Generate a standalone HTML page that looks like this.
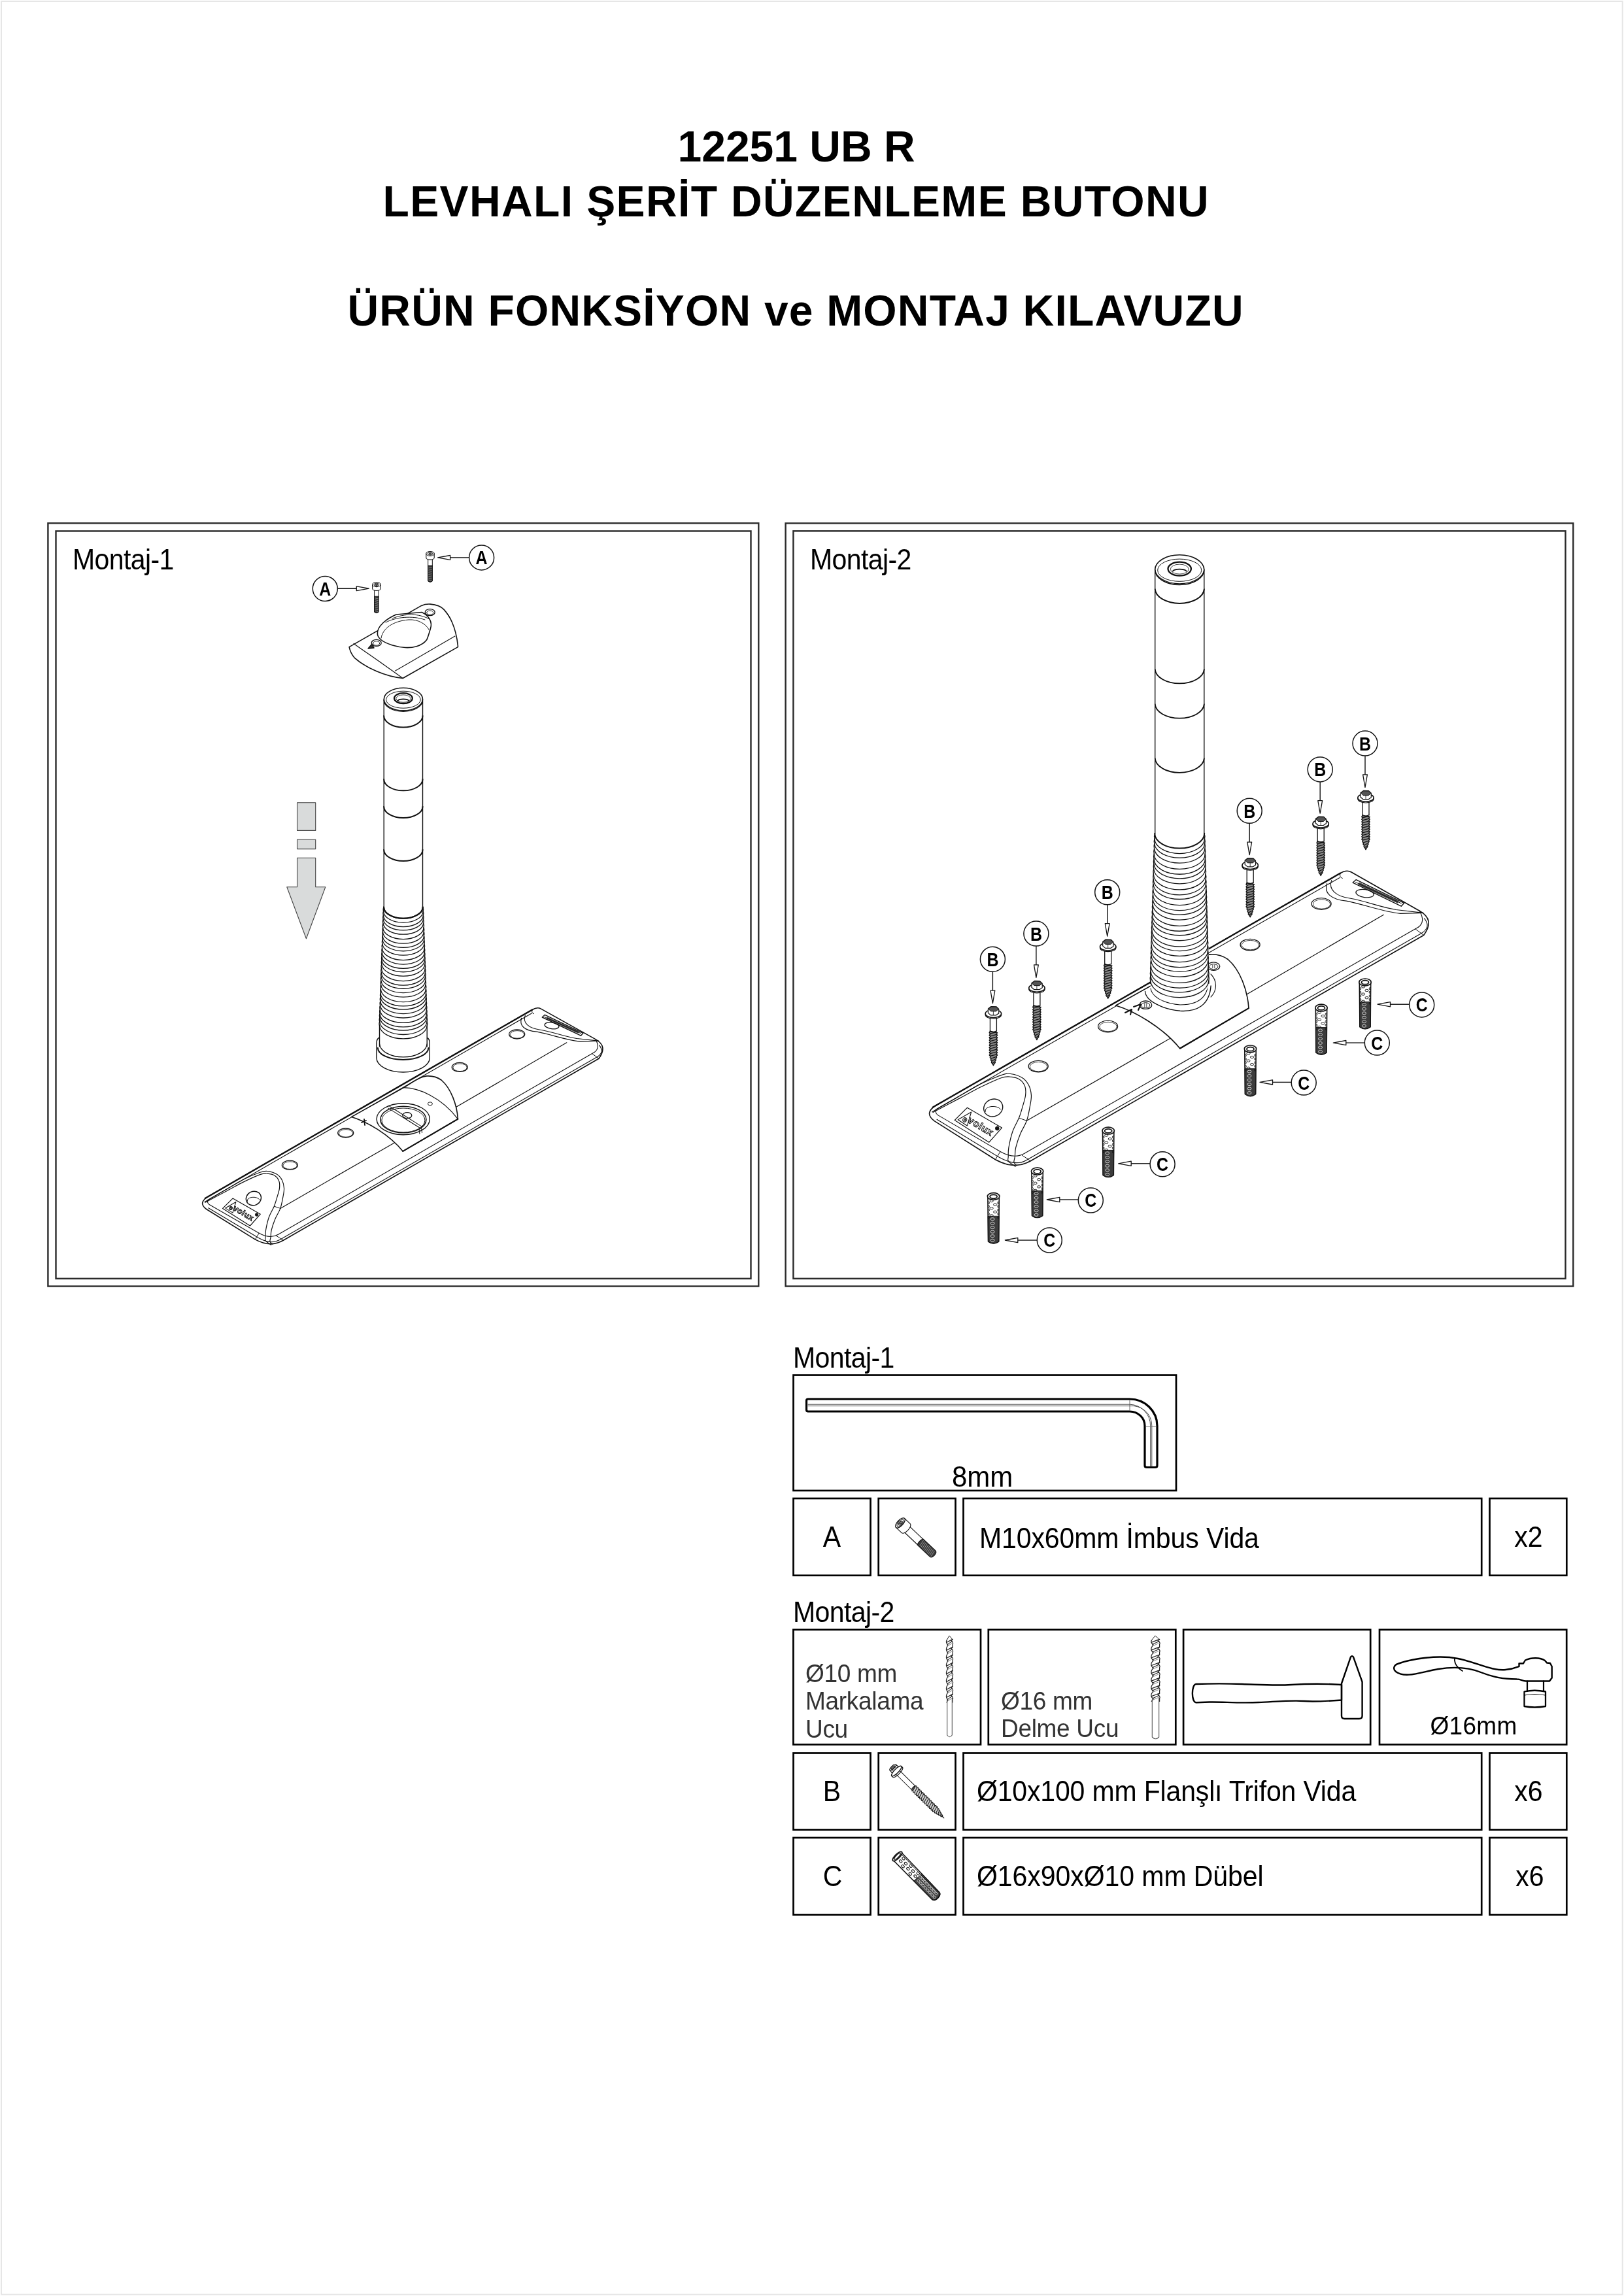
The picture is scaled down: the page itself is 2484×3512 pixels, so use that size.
<!DOCTYPE html>
<html><head><meta charset="utf-8"><title>12251 UB R</title>
<style>html,body{margin:0;padding:0;background:#fff;}svg{display:block;will-change:transform;}
text{font-family:"Liberation Sans",sans-serif;}</style></head>
<body><svg xmlns="http://www.w3.org/2000/svg" width="2484" height="3512" viewBox="0 0 2484 3512">
<rect x="2.0" y="2.0" width="2479.7" height="3507.7" fill="none" stroke="#e6e6e6" stroke-width="2" />
<text x="1036.5" y="247.0" font-size="66" font-weight="bold" fill="#000" text-anchor="start">12251 UB R</text>
<text x="585.5" y="331.0" font-size="66" font-weight="bold" fill="#000" text-anchor="start" letter-spacing="1.37">LEVHALI ŞERİT DÜZENLEME BUTONU</text>
<text x="531.5" y="498.3" font-size="66" font-weight="bold" fill="#000" text-anchor="start" letter-spacing="1.18">ÜRÜN FONKSİYON ve MONTAJ KILAVUZU</text>
<rect x="73.4" y="800.3" width="1086.9" height="1167.2" fill="none" stroke="#2b2b2b" stroke-width="2.4" />
<rect x="85.5" y="812.4" width="1063.0" height="1143.4" fill="none" stroke="#2b2b2b" stroke-width="2.4" />
<rect x="1201.6" y="800.4" width="1204.7" height="1167.1" fill="none" stroke="#2b2b2b" stroke-width="2.4" />
<rect x="1213.4" y="812.3" width="1181.1" height="1143.5" fill="none" stroke="#2b2b2b" stroke-width="2.4" />
<text x="111.0" y="871.0" font-size="41" font-weight="normal" fill="#000" text-anchor="start" letter-spacing="-0.6" transform="translate(0 871.0) scale(1 1.07) translate(0 -871.0)">Montaj-1</text>
<text x="1239.0" y="871.0" font-size="41" font-weight="normal" fill="#000" text-anchor="start" letter-spacing="-0.6" transform="translate(0 871.0) scale(1 1.07) translate(0 -871.0)">Montaj-2</text>
<text x="1213.0" y="2092.0" font-size="41" font-weight="normal" fill="#000" text-anchor="start" letter-spacing="-0.6" transform="translate(0 2092.0) scale(1 1.07) translate(0 -2092.0)">Montaj-1</text>
<rect x="1213.5" y="2103.5" width="585.5" height="176.5" fill="none" stroke="#000" stroke-width="2.7" />
<text x="1456.0" y="2274.0" font-size="42" font-weight="normal" fill="#000" text-anchor="start" transform="translate(0 2274.0) scale(1 1.07) translate(0 -2274.0)">8mm</text>
<rect x="1213.5" y="2292.0" width="118.0" height="117.8" fill="none" stroke="#000" stroke-width="2.7" />
<rect x="1343.7" y="2292.0" width="117.8" height="117.8" fill="none" stroke="#000" stroke-width="2.7" />
<rect x="1473.5" y="2292.0" width="792.7" height="117.8" fill="none" stroke="#000" stroke-width="2.7" />
<rect x="2278.5" y="2292.0" width="117.8" height="117.8" fill="none" stroke="#000" stroke-width="2.7" />
<rect x="1213.5" y="2681.5" width="118.0" height="117.5" fill="none" stroke="#000" stroke-width="2.7" />
<rect x="1343.7" y="2681.5" width="117.8" height="117.5" fill="none" stroke="#000" stroke-width="2.7" />
<rect x="1473.5" y="2681.5" width="792.7" height="117.5" fill="none" stroke="#000" stroke-width="2.7" />
<rect x="2278.5" y="2681.5" width="117.8" height="117.5" fill="none" stroke="#000" stroke-width="2.7" />
<rect x="1213.5" y="2811.0" width="118.0" height="118.0" fill="none" stroke="#000" stroke-width="2.7" />
<rect x="1343.7" y="2811.0" width="117.8" height="118.0" fill="none" stroke="#000" stroke-width="2.7" />
<rect x="1473.5" y="2811.0" width="792.7" height="118.0" fill="none" stroke="#000" stroke-width="2.7" />
<rect x="2278.5" y="2811.0" width="117.8" height="118.0" fill="none" stroke="#000" stroke-width="2.7" />
<text x="1272.5" y="2366.3" font-size="41" font-weight="normal" fill="#000" text-anchor="middle" transform="translate(0 2366.3) scale(1 1.07) translate(0 -2366.3)">A</text>
<text x="1498.0" y="2368.4" font-size="41" font-weight="normal" fill="#000" text-anchor="start" letter-spacing="-0.1" transform="translate(0 2368.4) scale(1 1.07) translate(0 -2368.4)">M10x60mm İmbus Vida</text>
<text x="2338.0" y="2366.0" font-size="41" font-weight="normal" fill="#000" text-anchor="middle" transform="translate(0 2366.0) scale(1 1.07) translate(0 -2366.0)">x2</text>
<text x="1213.0" y="2481.0" font-size="41" font-weight="normal" fill="#000" text-anchor="start" letter-spacing="-0.6" transform="translate(0 2481.0) scale(1 1.07) translate(0 -2481.0)">Montaj-2</text>
<rect x="1213.4" y="2492.8" width="286.6" height="175.7" fill="none" stroke="#000" stroke-width="2.7" />
<rect x="1511.8" y="2492.8" width="286.5" height="175.7" fill="none" stroke="#000" stroke-width="2.7" />
<rect x="1810.1" y="2492.8" width="286.1" height="175.7" fill="none" stroke="#000" stroke-width="2.7" />
<rect x="2110.0" y="2492.8" width="286.2" height="175.7" fill="none" stroke="#000" stroke-width="2.7" />
<text x="1232.0" y="2572.7" font-size="37" font-weight="normal" fill="#333" text-anchor="start" letter-spacing="-0.3" transform="translate(0 2572.7) scale(1 1.07) translate(0 -2572.7)">Ø10 mm</text>
<text x="1232.0" y="2614.7" font-size="37" font-weight="normal" fill="#333" text-anchor="start" letter-spacing="-0.3" transform="translate(0 2614.7) scale(1 1.07) translate(0 -2614.7)">Markalama</text>
<text x="1232.0" y="2657.6" font-size="37" font-weight="normal" fill="#333" text-anchor="start" letter-spacing="-0.3" transform="translate(0 2657.6) scale(1 1.07) translate(0 -2657.6)">Ucu</text>
<text x="1531.0" y="2615.0" font-size="37" font-weight="normal" fill="#333" text-anchor="start" letter-spacing="-0.3" transform="translate(0 2615.0) scale(1 1.07) translate(0 -2615.0)">Ø16 mm</text>
<text x="1531.0" y="2657.3" font-size="37" font-weight="normal" fill="#333" text-anchor="start" letter-spacing="-0.3" transform="translate(0 2657.3) scale(1 1.07) translate(0 -2657.3)">Delme Ucu</text>
<text x="2254.0" y="2653.4" font-size="37" font-weight="normal" fill="#000" text-anchor="middle" letter-spacing="0.3" transform="translate(0 2653.4) scale(1 1.07) translate(0 -2653.4)">Ø16mm</text>
<text x="1272.5" y="2755.0" font-size="41" font-weight="normal" fill="#000" text-anchor="middle" transform="translate(0 2755.0) scale(1 1.07) translate(0 -2755.0)">B</text>
<text x="1494.0" y="2754.7" font-size="41" font-weight="normal" fill="#000" text-anchor="start" letter-spacing="-0.15" transform="translate(0 2754.7) scale(1 1.07) translate(0 -2754.7)">Ø10x100 mm Flanşlı Trifon Vida</text>
<text x="2338.0" y="2755.0" font-size="41" font-weight="normal" fill="#000" text-anchor="middle" transform="translate(0 2755.0) scale(1 1.07) translate(0 -2755.0)">x6</text>
<text x="1273.5" y="2885.2" font-size="41" font-weight="normal" fill="#000" text-anchor="middle" transform="translate(0 2885.2) scale(1 1.07) translate(0 -2885.2)">C</text>
<text x="1494.0" y="2884.8" font-size="41" font-weight="normal" fill="#000" text-anchor="start" letter-spacing="-0.05" transform="translate(0 2884.8) scale(1 1.07) translate(0 -2884.8)">Ø16x90xØ10 mm Dübel</text>
<text x="2340.0" y="2885.3" font-size="41" font-weight="normal" fill="#000" text-anchor="middle" transform="translate(0 2885.3) scale(1 1.07) translate(0 -2885.3)">x6</text>
<g id="icons">
<path d="M1236,2140 L1728,2140 A42,41 0 0 1 1770,2181 L1770,2241.5 Q1770,2244.5 1767,2244.5 L1754,2244.5 Q1751,2244.5 1751,2241.5 L1751,2181 A23,22 0 0 0 1728,2159 L1236,2159 Q1233.5,2159 1233.5,2156.5 L1233.5,2142.5 Q1233.5,2140 1236,2140 Z" stroke="#000" stroke-width="3.2" fill="none" stroke-linejoin="round" stroke-linecap="round" />
<path d="M1236,2148.2 L1728,2148.2 A32.5,32 0 0 1 1759.6,2181 L1759.6,2243" stroke="#333" stroke-width="0.9" fill="none" stroke-linejoin="round" stroke-linecap="round" />
<path d="M1236,2150.6 L1728,2150.6 A30.5,30 0 0 1 1761.8,2181 L1761.8,2243" stroke="#333" stroke-width="0.9" fill="none" stroke-linejoin="round" stroke-linecap="round" />
<line x1="1728.0" y1="2141.5" x2="1728.0" y2="2157.5" stroke="#555" stroke-width="0.9"/>
<line x1="1752.5" y1="2181.5" x2="1768.5" y2="2181.5" stroke="#666" stroke-width="0.9"/>
<g transform="translate(1377.0 2329.5) rotate(43.5)">
<path d="M0,-9.6 L12,-9.6 A4.2,9.6 0 0 1 12,9.6 L0,9.6" stroke="#111" stroke-width="1.1" fill="#fff" stroke-linejoin="round" stroke-linecap="round" />
<ellipse cx="0.0" cy="0.0" rx="4.4" ry="9.6" stroke="#111" stroke-width="1.3" fill="#fff"/>
<ellipse cx="0.0" cy="0.0" rx="3.0" ry="6.6" stroke="#111" stroke-width="1.0" fill="none"/>
<ellipse cx="0.3" cy="0.0" rx="2.0" ry="4.2" stroke="#111" stroke-width="0.9" fill="none"/>
<polygon points="-1.0,-3.2 1.8,0.0 -1.0,3.2" stroke="#111" stroke-width="0.8" fill="#888" stroke-linejoin="round"/>
<path d="M15.5,-6.0 L42,-6.0 M15.5,6.0 L42,6.0" stroke="#111" stroke-width="1.1" fill="none" stroke-linejoin="round" stroke-linecap="round" />
<path d="M42,-6.3 L68,-6.3 Q72,-6.3 72,0 Q72,6.3 68,6.3 L42,6.3 Q39.5,0 42,-6.3 Z" stroke="#111" stroke-width="1.1" fill="#3a3a3a" stroke-linejoin="round" stroke-linecap="round" />
<line x1="44.0" y1="-5.2" x2="46.0" y2="5.2" stroke="#aaa" stroke-width="0.7"/>
<line x1="46.6" y1="-5.2" x2="48.6" y2="5.2" stroke="#aaa" stroke-width="0.7"/>
<line x1="49.2" y1="-5.2" x2="51.2" y2="5.2" stroke="#aaa" stroke-width="0.7"/>
<line x1="51.8" y1="-5.2" x2="53.8" y2="5.2" stroke="#aaa" stroke-width="0.7"/>
<line x1="54.4" y1="-5.2" x2="56.4" y2="5.2" stroke="#aaa" stroke-width="0.7"/>
<line x1="57.0" y1="-5.2" x2="59.0" y2="5.2" stroke="#aaa" stroke-width="0.7"/>
<line x1="59.6" y1="-5.2" x2="61.6" y2="5.2" stroke="#aaa" stroke-width="0.7"/>
<line x1="62.2" y1="-5.2" x2="64.2" y2="5.2" stroke="#aaa" stroke-width="0.7"/>
<line x1="64.8" y1="-5.2" x2="66.8" y2="5.2" stroke="#aaa" stroke-width="0.7"/>
<line x1="67.4" y1="-5.2" x2="69.4" y2="5.2" stroke="#aaa" stroke-width="0.7"/>
</g>
<g transform="translate(1371.3 2709.1) rotate(44.7)">
<polygon points="-1.0,-6.8 -7.5,-6.4 -8.8,0.0 -7.5,6.4 -1.0,6.8" stroke="#111" stroke-width="1.2" fill="#fff" stroke-linejoin="round"/>
<ellipse cx="-8.0" cy="0.0" rx="2.2" ry="6.4" stroke="#111" stroke-width="1.2" fill="#fff"/>
<ellipse cx="-8.0" cy="0.0" rx="1.3" ry="3.8" stroke="#111" stroke-width="0.9" fill="#777"/>
<line x1="-7.5" y1="-3.2" x2="-1.0" y2="-3.4" stroke="#111" stroke-width="0.8"/>
<line x1="-7.5" y1="3.2" x2="-1.0" y2="3.4" stroke="#111" stroke-width="0.8"/>
<path d="M0,-10.5 L2.6,-10.5 A3.2,10.5 0 0 1 2.6,10.5 L0,10.5" stroke="#111" stroke-width="1.2" fill="#fff" stroke-linejoin="round" stroke-linecap="round" />
<ellipse cx="0.0" cy="0.0" rx="3.2" ry="10.5" stroke="#111" stroke-width="1.4" fill="#fff"/>
<path d="M4,-4.0 L36,-4.0 M4,4.0 L36,4.0" stroke="#111" stroke-width="1.0" fill="none" stroke-linejoin="round" stroke-linecap="round" />
<path d="M36,-4.0 Q34.5,0 36,4.0" stroke="#111" stroke-width="1.3" fill="none" stroke-linejoin="round" stroke-linecap="round" />
<path d="M36,-4.2 L37.8,-5.3 L39.5,-3.7 L41.2,-5.3 L43.0,-3.7 L44.8,-5.3 L46.5,-3.7 L48.2,-5.3 L50.0,-3.7 L51.8,-5.3 L53.5,-3.7 L55.2,-5.3 L57.0,-3.7 L58.8,-5.3 L60.5,-3.7 L62.2,-5.3 L64.0,-3.7 L65.8,-5.3 L67.5,-3.7 L69.2,-5.3 L71.0,-3.7 L72.8,-5.3 L74.5,-3.7 L76.2,-5.3 L78.0,-3.7 L79.8,-5.3 L81.5,-3.7 L83.2,-5.3 L85.0,-3.7 L86.8,-4.4 L88.5,-2.8 L90.2,-3.5 L92.0,-1.9 L93.8,-2.6 L95.5,-1.0 L97.2,-1.7 L99.0,-0.1 L102,0 L99.0,0.1 L97.2,1.7 L95.5,1.0 L93.8,2.6 L92.0,1.9 L90.2,3.5 L88.5,2.8 L86.8,4.4 L85.0,3.7 L83.2,5.3 L81.5,3.7 L79.8,5.3 L78.0,3.7 L76.2,5.3 L74.5,3.7 L72.8,5.3 L71.0,3.7 L69.2,5.3 L67.5,3.7 L65.8,5.3 L64.0,3.7 L62.2,5.3 L60.5,3.7 L58.8,5.3 L57.0,3.7 L55.2,5.3 L53.5,3.7 L51.8,5.3 L50.0,3.7 L48.2,5.3 L46.5,3.7 L44.8,5.3 L43.0,3.7 L41.2,5.3 L39.5,3.7 L37.8,5.3 Z" stroke="#111" stroke-width="1.1" fill="#cfcfcf" stroke-linejoin="round" stroke-linecap="round" />
<line x1="36.8" y1="-4.0" x2="39.0" y2="4.0" stroke="#111" stroke-width="1.0"/>
<line x1="40.3" y1="-4.0" x2="42.5" y2="4.0" stroke="#111" stroke-width="1.0"/>
<line x1="43.8" y1="-4.0" x2="46.0" y2="4.0" stroke="#111" stroke-width="1.0"/>
<line x1="47.3" y1="-4.0" x2="49.5" y2="4.0" stroke="#111" stroke-width="1.0"/>
<line x1="50.8" y1="-4.0" x2="53.0" y2="4.0" stroke="#111" stroke-width="1.0"/>
<line x1="54.3" y1="-4.0" x2="56.5" y2="4.0" stroke="#111" stroke-width="1.0"/>
<line x1="57.8" y1="-4.0" x2="60.0" y2="4.0" stroke="#111" stroke-width="1.0"/>
<line x1="61.3" y1="-4.0" x2="63.5" y2="4.0" stroke="#111" stroke-width="1.0"/>
<line x1="64.8" y1="-4.0" x2="67.0" y2="4.0" stroke="#111" stroke-width="1.0"/>
<line x1="68.3" y1="-4.0" x2="70.5" y2="4.0" stroke="#111" stroke-width="1.0"/>
<line x1="71.8" y1="-4.0" x2="74.0" y2="4.0" stroke="#111" stroke-width="1.0"/>
<line x1="75.3" y1="-4.0" x2="77.5" y2="4.0" stroke="#111" stroke-width="1.0"/>
<line x1="78.8" y1="-4.0" x2="81.0" y2="4.0" stroke="#111" stroke-width="1.0"/>
<line x1="82.3" y1="-4.0" x2="84.5" y2="4.0" stroke="#111" stroke-width="1.0"/>
<line x1="85.8" y1="-3.1" x2="88.0" y2="3.1" stroke="#111" stroke-width="1.0"/>
<line x1="89.3" y1="-2.2" x2="91.5" y2="2.2" stroke="#111" stroke-width="1.0"/>
<line x1="92.8" y1="-1.3" x2="95.0" y2="1.3" stroke="#111" stroke-width="1.0"/>
<line x1="96.3" y1="-0.4" x2="98.5" y2="0.4" stroke="#111" stroke-width="1.0"/>
</g>
<g transform="translate(1372.5 2839.5) rotate(45.8) scale(1.0)">
<path d="M0,-8.6 L84,-7.8 Q89,-7.6 89,0 Q89,7.6 84,7.8 L0,8.6 Z" stroke="#111" stroke-width="1.6" fill="#fff" stroke-linejoin="round" stroke-linecap="round" />
<ellipse cx="9.0" cy="-4.5" rx="2.4" ry="1.8" stroke="#111" stroke-width="1.0" fill="none"/>
<ellipse cx="9.0" cy="1.5" rx="2.4" ry="1.8" stroke="#111" stroke-width="1.0" fill="none"/>
<ellipse cx="17.0" cy="-1.5" rx="2.4" ry="1.8" stroke="#111" stroke-width="1.0" fill="none"/>
<ellipse cx="17.0" cy="4.5" rx="2.4" ry="1.8" stroke="#111" stroke-width="1.0" fill="none"/>
<ellipse cx="25.0" cy="-4.5" rx="2.4" ry="1.8" stroke="#111" stroke-width="1.0" fill="none"/>
<ellipse cx="25.0" cy="1.5" rx="2.4" ry="1.8" stroke="#111" stroke-width="1.0" fill="none"/>
<ellipse cx="33.0" cy="-1.5" rx="2.4" ry="1.8" stroke="#111" stroke-width="1.0" fill="none"/>
<ellipse cx="33.0" cy="4.5" rx="2.4" ry="1.8" stroke="#111" stroke-width="1.0" fill="none"/>
<ellipse cx="41.0" cy="-4.5" rx="2.4" ry="1.8" stroke="#111" stroke-width="1.0" fill="none"/>
<ellipse cx="41.0" cy="1.5" rx="2.4" ry="1.8" stroke="#111" stroke-width="1.0" fill="none"/>
<path d="M45,-8.2 L84,-7.8 Q88,-7.6 88,0 Q88,7.6 84,7.8 L45,8.2 Z" stroke="#111" stroke-width="1.0" fill="#444" stroke-linejoin="round" stroke-linecap="round" />
<ellipse cx="47.0" cy="-3.0" rx="2.1" ry="1.9" stroke="#ddd" stroke-width="0.8" fill="none"/>
<ellipse cx="49.5" cy="3.0" rx="2.1" ry="1.9" stroke="#ddd" stroke-width="0.8" fill="none"/>
<ellipse cx="52.0" cy="-3.0" rx="2.1" ry="1.9" stroke="#ddd" stroke-width="0.8" fill="none"/>
<ellipse cx="54.5" cy="3.0" rx="2.1" ry="1.9" stroke="#ddd" stroke-width="0.8" fill="none"/>
<ellipse cx="57.0" cy="-3.0" rx="2.1" ry="1.9" stroke="#ddd" stroke-width="0.8" fill="none"/>
<ellipse cx="59.5" cy="3.0" rx="2.1" ry="1.9" stroke="#ddd" stroke-width="0.8" fill="none"/>
<ellipse cx="62.0" cy="-3.0" rx="2.1" ry="1.9" stroke="#ddd" stroke-width="0.8" fill="none"/>
<ellipse cx="64.5" cy="3.0" rx="2.1" ry="1.9" stroke="#ddd" stroke-width="0.8" fill="none"/>
<ellipse cx="67.0" cy="-3.0" rx="2.1" ry="1.9" stroke="#ddd" stroke-width="0.8" fill="none"/>
<ellipse cx="69.5" cy="3.0" rx="2.1" ry="1.9" stroke="#ddd" stroke-width="0.8" fill="none"/>
<ellipse cx="72.0" cy="-3.0" rx="2.1" ry="1.9" stroke="#ddd" stroke-width="0.8" fill="none"/>
<ellipse cx="74.5" cy="3.0" rx="2.1" ry="1.9" stroke="#ddd" stroke-width="0.8" fill="none"/>
<ellipse cx="77.0" cy="-3.0" rx="2.1" ry="1.9" stroke="#ddd" stroke-width="0.8" fill="none"/>
<ellipse cx="79.5" cy="3.0" rx="2.1" ry="1.9" stroke="#ddd" stroke-width="0.8" fill="none"/>
<ellipse cx="82.0" cy="-3.0" rx="2.1" ry="1.9" stroke="#ddd" stroke-width="0.8" fill="none"/>
<ellipse cx="84.5" cy="3.0" rx="2.1" ry="1.9" stroke="#ddd" stroke-width="0.8" fill="none"/>
<line x1="2.0" y1="-6.6" x2="84.0" y2="-6.0" stroke="#111" stroke-width="0.9"/>
<line x1="2.0" y1="-5.2" x2="84.0" y2="-4.7" stroke="#fff" stroke-width="0.6"/>
<ellipse cx="0.0" cy="0.0" rx="3.4" ry="9.6" stroke="#111" stroke-width="1.8" fill="#fff"/>
<ellipse cx="0.0" cy="0.0" rx="2.0" ry="6.4" stroke="#111" stroke-width="1.3" fill="none"/>
</g>
<path d="M1448.0,2509.0 L1452.0,2502.0 L1457.0,2508.0" stroke="#222" stroke-width="1.0" fill="none" stroke-linejoin="round" stroke-linecap="round" />
<path d="M1448.0,2509.0 Q1446.2,2513.4 1450.0,2515.8 L1448.0,2520.0 Q1446.2,2525.4 1450.0,2527.8 L1448.0,2532.0 Q1446.2,2537.4 1450.0,2539.8 L1448.0,2544.0 Q1446.2,2549.4 1450.0,2551.8 L1448.0,2556.0 Q1446.2,2561.4 1450.0,2563.8 L1448.0,2568.0 Q1446.2,2573.4 1450.0,2575.8 L1448.0,2580.0 Q1446.2,2585.4 1450.0,2587.8 L1448.0,2592.0 Q1446.2,2597.4 1450.0,2599.8 L1448.0,2604.0" stroke="#222" stroke-width="1.2" fill="none" stroke-linejoin="round" stroke-linecap="round" />
<path d="M1457.0,2508.0 L1455.0,2509.8 Q1458.8,2512.8 1457.0,2515.2 L1457.0,2520.0 L1455.0,2521.8 Q1458.8,2524.8 1457.0,2527.2 L1457.0,2532.0 L1455.0,2533.8 Q1458.8,2536.8 1457.0,2539.2 L1457.0,2544.0 L1455.0,2545.8 Q1458.8,2548.8 1457.0,2551.2 L1457.0,2556.0 L1455.0,2557.8 Q1458.8,2560.8 1457.0,2563.2 L1457.0,2568.0 L1455.0,2569.8 Q1458.8,2572.8 1457.0,2575.2 L1457.0,2580.0 L1455.0,2581.8 Q1458.8,2584.8 1457.0,2587.2 L1457.0,2592.0 L1455.0,2593.8 Q1458.8,2596.8 1457.0,2599.2 L1457.0,2604.0" stroke="#222" stroke-width="1.2" fill="none" stroke-linejoin="round" stroke-linecap="round" />
<path d="M1448.0,2512.2 L1457.0,2507.4" stroke="#222" stroke-width="1.3" fill="none" stroke-linejoin="round" stroke-linecap="round" />
<path d="M1448.9,2515.4 L1456.5,2510.6" stroke="#222" stroke-width="1.1" fill="none" stroke-linejoin="round" stroke-linecap="round" />
<path d="M1449.8,2517.6 L1455.7,2514.0" stroke="#555" stroke-width="0.7" fill="none" stroke-linejoin="round" stroke-linecap="round" />
<path d="M1448.0,2524.2 L1457.0,2519.4" stroke="#222" stroke-width="1.3" fill="none" stroke-linejoin="round" stroke-linecap="round" />
<path d="M1448.9,2527.4 L1456.5,2522.6" stroke="#222" stroke-width="1.1" fill="none" stroke-linejoin="round" stroke-linecap="round" />
<path d="M1449.8,2529.6 L1455.7,2526.0" stroke="#555" stroke-width="0.7" fill="none" stroke-linejoin="round" stroke-linecap="round" />
<path d="M1448.0,2536.2 L1457.0,2531.4" stroke="#222" stroke-width="1.3" fill="none" stroke-linejoin="round" stroke-linecap="round" />
<path d="M1448.9,2539.4 L1456.5,2534.6" stroke="#222" stroke-width="1.1" fill="none" stroke-linejoin="round" stroke-linecap="round" />
<path d="M1449.8,2541.6 L1455.7,2538.0" stroke="#555" stroke-width="0.7" fill="none" stroke-linejoin="round" stroke-linecap="round" />
<path d="M1448.0,2548.2 L1457.0,2543.4" stroke="#222" stroke-width="1.3" fill="none" stroke-linejoin="round" stroke-linecap="round" />
<path d="M1448.9,2551.4 L1456.5,2546.6" stroke="#222" stroke-width="1.1" fill="none" stroke-linejoin="round" stroke-linecap="round" />
<path d="M1449.8,2553.6 L1455.7,2550.0" stroke="#555" stroke-width="0.7" fill="none" stroke-linejoin="round" stroke-linecap="round" />
<path d="M1448.0,2560.2 L1457.0,2555.4" stroke="#222" stroke-width="1.3" fill="none" stroke-linejoin="round" stroke-linecap="round" />
<path d="M1448.9,2563.4 L1456.5,2558.6" stroke="#222" stroke-width="1.1" fill="none" stroke-linejoin="round" stroke-linecap="round" />
<path d="M1449.8,2565.6 L1455.7,2562.0" stroke="#555" stroke-width="0.7" fill="none" stroke-linejoin="round" stroke-linecap="round" />
<path d="M1448.0,2572.2 L1457.0,2567.4" stroke="#222" stroke-width="1.3" fill="none" stroke-linejoin="round" stroke-linecap="round" />
<path d="M1448.9,2575.4 L1456.5,2570.6" stroke="#222" stroke-width="1.1" fill="none" stroke-linejoin="round" stroke-linecap="round" />
<path d="M1449.8,2577.6 L1455.7,2574.0" stroke="#555" stroke-width="0.7" fill="none" stroke-linejoin="round" stroke-linecap="round" />
<path d="M1448.0,2584.2 L1457.0,2579.4" stroke="#222" stroke-width="1.3" fill="none" stroke-linejoin="round" stroke-linecap="round" />
<path d="M1448.9,2587.4 L1456.5,2582.6" stroke="#222" stroke-width="1.1" fill="none" stroke-linejoin="round" stroke-linecap="round" />
<path d="M1449.8,2589.6 L1455.7,2586.0" stroke="#555" stroke-width="0.7" fill="none" stroke-linejoin="round" stroke-linecap="round" />
<path d="M1448.0,2596.2 L1457.0,2591.4" stroke="#222" stroke-width="1.3" fill="none" stroke-linejoin="round" stroke-linecap="round" />
<path d="M1448.9,2599.4 L1456.5,2594.6" stroke="#222" stroke-width="1.1" fill="none" stroke-linejoin="round" stroke-linecap="round" />
<path d="M1449.8,2601.6 L1455.7,2598.0" stroke="#555" stroke-width="0.7" fill="none" stroke-linejoin="round" stroke-linecap="round" />
<path d="M1448.7,2600.0 L1448.7,2654.0 Q1452.5,2659.5 1456.3,2654.0 L1456.3,2597.0" stroke="#555" stroke-width="1.1" fill="none" stroke-linejoin="round" stroke-linecap="round" />
<path d="M1761.4,2509.0 L1766.9,2502.0 L1773.6,2508.0" stroke="#222" stroke-width="1.0" fill="none" stroke-linejoin="round" stroke-linecap="round" />
<path d="M1761.4,2509.0 Q1759.6,2513.3 1764.1,2515.7 L1761.4,2519.8 Q1759.6,2525.1 1764.1,2527.5 L1761.4,2531.6 Q1759.6,2536.9 1764.1,2539.3 L1761.4,2543.4 Q1759.6,2548.7 1764.1,2551.1 L1761.4,2555.2 Q1759.6,2560.5 1764.1,2562.9 L1761.4,2567.0 Q1759.6,2572.3 1764.1,2574.7 L1761.4,2578.8 Q1759.6,2584.1 1764.1,2586.5 L1761.4,2590.6 Q1759.6,2595.9 1764.1,2598.3 L1761.4,2602.4" stroke="#222" stroke-width="1.2" fill="none" stroke-linejoin="round" stroke-linecap="round" />
<path d="M1773.6,2508.0 L1770.9,2509.8 Q1775.4,2512.7 1773.6,2515.1 L1773.6,2519.8 L1770.9,2521.6 Q1775.4,2524.5 1773.6,2526.9 L1773.6,2531.6 L1770.9,2533.4 Q1775.4,2536.3 1773.6,2538.7 L1773.6,2543.4 L1770.9,2545.2 Q1775.4,2548.1 1773.6,2550.5 L1773.6,2555.2 L1770.9,2557.0 Q1775.4,2559.9 1773.6,2562.3 L1773.6,2567.0 L1770.9,2568.8 Q1775.4,2571.7 1773.6,2574.1 L1773.6,2578.8 L1770.9,2580.6 Q1775.4,2583.5 1773.6,2585.9 L1773.6,2590.6 L1770.9,2592.4 Q1775.4,2595.3 1773.6,2597.7 L1773.6,2602.4" stroke="#222" stroke-width="1.2" fill="none" stroke-linejoin="round" stroke-linecap="round" />
<path d="M1761.4,2512.1 L1773.6,2507.4" stroke="#222" stroke-width="1.3" fill="none" stroke-linejoin="round" stroke-linecap="round" />
<path d="M1762.6,2515.3 L1773.0,2510.6" stroke="#222" stroke-width="1.1" fill="none" stroke-linejoin="round" stroke-linecap="round" />
<path d="M1763.8,2517.4 L1771.8,2513.9" stroke="#555" stroke-width="0.7" fill="none" stroke-linejoin="round" stroke-linecap="round" />
<path d="M1761.4,2523.9 L1773.6,2519.2" stroke="#222" stroke-width="1.3" fill="none" stroke-linejoin="round" stroke-linecap="round" />
<path d="M1762.6,2527.1 L1773.0,2522.4" stroke="#222" stroke-width="1.1" fill="none" stroke-linejoin="round" stroke-linecap="round" />
<path d="M1763.8,2529.2 L1771.8,2525.7" stroke="#555" stroke-width="0.7" fill="none" stroke-linejoin="round" stroke-linecap="round" />
<path d="M1761.4,2535.7 L1773.6,2531.0" stroke="#222" stroke-width="1.3" fill="none" stroke-linejoin="round" stroke-linecap="round" />
<path d="M1762.6,2538.9 L1773.0,2534.2" stroke="#222" stroke-width="1.1" fill="none" stroke-linejoin="round" stroke-linecap="round" />
<path d="M1763.8,2541.0 L1771.8,2537.5" stroke="#555" stroke-width="0.7" fill="none" stroke-linejoin="round" stroke-linecap="round" />
<path d="M1761.4,2547.5 L1773.6,2542.8" stroke="#222" stroke-width="1.3" fill="none" stroke-linejoin="round" stroke-linecap="round" />
<path d="M1762.6,2550.7 L1773.0,2546.0" stroke="#222" stroke-width="1.1" fill="none" stroke-linejoin="round" stroke-linecap="round" />
<path d="M1763.8,2552.8 L1771.8,2549.3" stroke="#555" stroke-width="0.7" fill="none" stroke-linejoin="round" stroke-linecap="round" />
<path d="M1761.4,2559.3 L1773.6,2554.6" stroke="#222" stroke-width="1.3" fill="none" stroke-linejoin="round" stroke-linecap="round" />
<path d="M1762.6,2562.5 L1773.0,2557.8" stroke="#222" stroke-width="1.1" fill="none" stroke-linejoin="round" stroke-linecap="round" />
<path d="M1763.8,2564.6 L1771.8,2561.1" stroke="#555" stroke-width="0.7" fill="none" stroke-linejoin="round" stroke-linecap="round" />
<path d="M1761.4,2571.1 L1773.6,2566.4" stroke="#222" stroke-width="1.3" fill="none" stroke-linejoin="round" stroke-linecap="round" />
<path d="M1762.6,2574.3 L1773.0,2569.6" stroke="#222" stroke-width="1.1" fill="none" stroke-linejoin="round" stroke-linecap="round" />
<path d="M1763.8,2576.4 L1771.8,2572.9" stroke="#555" stroke-width="0.7" fill="none" stroke-linejoin="round" stroke-linecap="round" />
<path d="M1761.4,2582.9 L1773.6,2578.2" stroke="#222" stroke-width="1.3" fill="none" stroke-linejoin="round" stroke-linecap="round" />
<path d="M1762.6,2586.1 L1773.0,2581.4" stroke="#222" stroke-width="1.1" fill="none" stroke-linejoin="round" stroke-linecap="round" />
<path d="M1763.8,2588.2 L1771.8,2584.7" stroke="#555" stroke-width="0.7" fill="none" stroke-linejoin="round" stroke-linecap="round" />
<path d="M1761.4,2594.7 L1773.6,2590.0" stroke="#222" stroke-width="1.3" fill="none" stroke-linejoin="round" stroke-linecap="round" />
<path d="M1762.6,2597.9 L1773.0,2593.2" stroke="#222" stroke-width="1.1" fill="none" stroke-linejoin="round" stroke-linecap="round" />
<path d="M1763.8,2600.0 L1771.8,2596.5" stroke="#555" stroke-width="0.7" fill="none" stroke-linejoin="round" stroke-linecap="round" />
<path d="M1762.3,2600.0 L1762.3,2657.0 Q1767.5,2662.5 1772.7,2657.0 L1772.7,2597.0" stroke="#555" stroke-width="1.1" fill="none" stroke-linejoin="round" stroke-linecap="round" />
<path d="M1829.5,2576 C1845,2575.5 1870,2575 1900,2576 C1930,2577 1950,2578.5 1975,2577 C2000,2575.5 2030,2575.5 2052,2577 L2052,2600.5 C2030,2602 2010,2603.5 1995,2602 C1975,2600.5 1950,2603 1925,2604 C1895,2605.5 1870,2603 1850,2603.5 L1829.5,2604.2 C1822,2604 1822,2576.5 1829.5,2576 Z" stroke="#000" stroke-width="2.4" fill="none" stroke-linejoin="round" stroke-linecap="round" />
<path d="M2052,2575 L2066,2534.5 Q2068,2532 2070,2534.5 L2083.6,2572.6 L2083.6,2624.5 Q2083.6,2629 2079,2629 L2056.5,2629 Q2052,2629 2052,2624.5 Z" stroke="#000" stroke-width="2.4" fill="none" stroke-linejoin="round" stroke-linecap="round" />
<path d="M2138,2545 C2160,2537 2200,2531 2230,2537 C2260,2543 2280,2556 2303,2554 C2315,2553 2323,2549 2323.5,2549 L2323.5,2544.5 L2330,2544.5 L2333,2539.5 C2342,2535 2356,2535 2363,2540 L2366,2543.5 L2371,2544 L2373.7,2549 L2373.7,2566.5 L2370,2571.5 L2334,2571.5 C2328,2571 2327,2568.5 2320,2568.5 C2300,2568 2285,2566 2265,2558 C2245,2550 2225,2549 2200,2553 C2175,2557 2150,2568 2135,2557 C2130,2553 2132,2547 2138,2545 Z" stroke="#000" stroke-width="2.4" fill="none" stroke-linejoin="round" stroke-linecap="round" />
<path d="M2225,2537 C2224,2545 2230,2552 2237,2556" stroke="#000" stroke-width="1.8" fill="none" stroke-linejoin="round" stroke-linecap="round" />
<path d="M2336,2571.5 L2336,2587 M2361,2571.5 L2361,2587" stroke="#000" stroke-width="2.2" fill="none" stroke-linejoin="round" stroke-linecap="round" />
<path d="M2331.5,2587.5 Q2347,2584 2364,2587.5 L2364,2610 Q2347,2613 2331.5,2610 Z" stroke="#000" stroke-width="2.3" fill="none" stroke-linejoin="round" stroke-linecap="round" />
<path d="M2332,2593 Q2347,2590 2363.5,2593" stroke="#000" stroke-width="1.2" fill="none" stroke-linejoin="round" stroke-linecap="round" />
</g>
<g id="left">
<circle cx="497.3" cy="900.5" r="19.0" stroke="#111" stroke-width="1.5" fill="#fff"/>
<text x="497.3" y="911.0" font-size="29" font-weight="bold" text-anchor="middle" fill="#000" transform="translate(497.3 0) scale(0.86 1) translate(-497.3 0)">A</text>
<line x1="516.1" y1="900.3" x2="545.3" y2="900.2" stroke="#111" stroke-width="1.4"/>
<polygon points="545.3,903.6 564.3,900.2 545.3,896.8" stroke="#111" stroke-width="1.3" fill="#fff" stroke-linejoin="round"/>
<path d="M569.6,894.2 L569.6,900.2 A6.2,3.2 0 0 0 582.1,900.2 L582.1,894.2" stroke="#111" stroke-width="1.1" fill="#fff" stroke-linejoin="round" stroke-linecap="round" />
<ellipse cx="575.9" cy="894.2" rx="6.2" ry="3.4" stroke="#111" stroke-width="1.1" fill="#fff"/>
<ellipse cx="575.9" cy="894.3" rx="4.0" ry="2.2" stroke="#111" stroke-width="0.9" fill="none"/>
<ellipse cx="575.9" cy="894.3" rx="2.0" ry="1.2" stroke="#111" stroke-width="0.8" fill="#666"/>
<line x1="572.6" y1="903.0" x2="572.6" y2="913.7" stroke="#111" stroke-width="1.0"/>
<line x1="579.1" y1="903.0" x2="579.1" y2="913.7" stroke="#111" stroke-width="1.0"/>
<path d="M572.5,912.7 L572.5,936.2 Q575.9,939.2 579.2,936.2 L579.2,912.7 Z" stroke="#111" stroke-width="1.0" fill="#333" stroke-linejoin="round" stroke-linecap="round" />
<line x1="573.2" y1="914.7" x2="578.5" y2="915.9" stroke="#bbb" stroke-width="0.6"/>
<line x1="573.2" y1="917.5" x2="578.5" y2="918.7" stroke="#bbb" stroke-width="0.6"/>
<line x1="573.2" y1="920.3" x2="578.5" y2="921.5" stroke="#bbb" stroke-width="0.6"/>
<line x1="573.2" y1="923.1" x2="578.5" y2="924.3" stroke="#bbb" stroke-width="0.6"/>
<line x1="573.2" y1="925.9" x2="578.5" y2="927.1" stroke="#bbb" stroke-width="0.6"/>
<line x1="573.2" y1="928.7" x2="578.5" y2="929.9" stroke="#bbb" stroke-width="0.6"/>
<line x1="573.2" y1="931.5" x2="578.5" y2="932.7" stroke="#bbb" stroke-width="0.6"/>
<line x1="573.2" y1="934.3" x2="578.5" y2="935.5" stroke="#bbb" stroke-width="0.6"/>
<circle cx="736.6" cy="852.9" r="19.0" stroke="#111" stroke-width="1.5" fill="#fff"/>
<text x="736.6" y="863.4" font-size="29" font-weight="bold" text-anchor="middle" fill="#000" transform="translate(736.6 0) scale(0.86 1) translate(-736.6 0)">A</text>
<line x1="717.5" y1="852.9" x2="688.6" y2="852.9" stroke="#111" stroke-width="1.4"/>
<polygon points="688.6,849.5 669.6,852.9 688.6,856.3" stroke="#111" stroke-width="1.3" fill="#fff" stroke-linejoin="round"/>
<path d="M651.8,846.9 L651.8,852.9 A6.2,3.2 0 0 0 664.2,852.9 L664.2,846.9" stroke="#111" stroke-width="1.1" fill="#fff" stroke-linejoin="round" stroke-linecap="round" />
<ellipse cx="658.0" cy="846.9" rx="6.2" ry="3.4" stroke="#111" stroke-width="1.1" fill="#fff"/>
<ellipse cx="658.0" cy="847.0" rx="4.0" ry="2.2" stroke="#111" stroke-width="0.9" fill="none"/>
<ellipse cx="658.0" cy="847.0" rx="2.0" ry="1.2" stroke="#111" stroke-width="0.8" fill="#666"/>
<line x1="654.7" y1="855.7" x2="654.7" y2="866.4" stroke="#111" stroke-width="1.0"/>
<line x1="661.3" y1="855.7" x2="661.3" y2="866.4" stroke="#111" stroke-width="1.0"/>
<path d="M654.6,865.4 L654.6,888.9 Q658.0,891.9 661.4,888.9 L661.4,865.4 Z" stroke="#111" stroke-width="1.0" fill="#333" stroke-linejoin="round" stroke-linecap="round" />
<line x1="655.4" y1="867.4" x2="660.6" y2="868.6" stroke="#bbb" stroke-width="0.6"/>
<line x1="655.4" y1="870.2" x2="660.6" y2="871.4" stroke="#bbb" stroke-width="0.6"/>
<line x1="655.4" y1="873.0" x2="660.6" y2="874.2" stroke="#bbb" stroke-width="0.6"/>
<line x1="655.4" y1="875.8" x2="660.6" y2="877.0" stroke="#bbb" stroke-width="0.6"/>
<line x1="655.4" y1="878.6" x2="660.6" y2="879.8" stroke="#bbb" stroke-width="0.6"/>
<line x1="655.4" y1="881.4" x2="660.6" y2="882.6" stroke="#bbb" stroke-width="0.6"/>
<line x1="655.4" y1="884.2" x2="660.6" y2="885.4" stroke="#bbb" stroke-width="0.6"/>
<line x1="655.4" y1="887.0" x2="660.6" y2="888.2" stroke="#bbb" stroke-width="0.6"/>
<path d="M534.1,989.6 L644.6,926.4 C650,924 654,923.8 658.3,924.1 C668,925 675,928 678.8,932.1 C685,939 689,946 691.3,951.5 C696,962 699,975 700.4,987.9 L700.4,989.6 L616.1,1037.5 C590,1035 560,1022 542.1,1006.1 C537,1000 535,994 534.1,989.6 Z" stroke="#111" stroke-width="1.6" fill="#fff" stroke-linejoin="round" stroke-linecap="round" />
<path d="M541,984.5 C560,998 595,1022 616.1,1037.5" stroke="#111" stroke-width="1.2" fill="none" stroke-linejoin="round" stroke-linecap="round" />
<path d="M604.7,1026.1 L695.9,973.1" stroke="#111" stroke-width="1.1" fill="none" stroke-linejoin="round" stroke-linecap="round" />
<path d="M577.4,970 C576,958 592,946 606,940 L645,936.5 C656,941 662,952 658.3,962 C656,970 654,976 652.6,978.8 C645,989 630,991 620,990.5 C608,990 590,985 582,978 C579,975 577.5,972 577.4,970 Z" stroke="#111" stroke-width="1.6" fill="#fff" stroke-linejoin="round" stroke-linecap="round" />
<path d="M583,976 C585,962 600,950 625,948 C640,947 652,955 656,963" stroke="#111" stroke-width="1.0" fill="none" stroke-linejoin="round" stroke-linecap="round" />
<path d="M590,952 C605,944 630,941 650,948" stroke="#111" stroke-width="1.0" fill="none" stroke-linejoin="round" stroke-linecap="round" />
<path d="M600,946 C620,938 640,938 657,947" stroke="#111" stroke-width="1.0" fill="none" stroke-linejoin="round" stroke-linecap="round" />
<ellipse cx="657.7" cy="936.6" rx="7.5" ry="5.0" stroke="#111" stroke-width="1.3" fill="none"/>
<ellipse cx="657.7" cy="937.2" rx="5.0" ry="3.2" stroke="#111" stroke-width="0.9" fill="none"/>
<ellipse cx="575.7" cy="983.4" rx="7.5" ry="5.0" stroke="#111" stroke-width="1.3" fill="none"/>
<ellipse cx="575.7" cy="984.0" rx="5.0" ry="3.2" stroke="#111" stroke-width="0.9" fill="none"/>
<path d="M563,992 L569,985 L572,991 Z" stroke="#111" stroke-width="1.4" fill="#333" stroke-linejoin="round" stroke-linecap="round" />
<polygon points="454.5,1227.8 482.7,1227.8 482.7,1270.4 454.5,1270.4" stroke="#444" stroke-width="1.1" fill="#d9dbdb" stroke-linejoin="round"/>
<polygon points="454.5,1284.2 482.7,1284.2 482.7,1298.6 454.5,1298.6" stroke="#444" stroke-width="1.1" fill="#d9dbdb" stroke-linejoin="round"/>
<polygon points="454.5,1312.2 482.7,1312.2 482.7,1356.8 497.8,1356.8 468.4,1435.7 438.8,1356.8 454.5,1356.8" stroke="#444" stroke-width="1.1" fill="#d9dbdb" stroke-linejoin="round"/>
<path d="M319.0,1829.9 L814.1,1544.5 Q821.7,1539.8 827.5,1543.1 L910.8,1589.6 C924.1,1597.0 925.1,1606.5 915.9,1619.2 L433.8,1897.0 Q413.3,1908.8 390.3,1895.9 L315.6,1849.5 Q302.2,1839.6 319.0,1829.9 Z" stroke="#111" stroke-width="1.6" fill="#fff" stroke-linejoin="round" stroke-linecap="round" />
<path d="M313.7,1832.9 L814.1,1544.5" stroke="#111" stroke-width="2.3" fill="none" stroke-linejoin="round" stroke-linecap="round" />
<path d="M318.0,1835.4 L813.2,1550.0" stroke="#111" stroke-width="1.1" fill="none" stroke-linejoin="round" stroke-linecap="round" />
<path d="M912.4,1617.3 Q925.5,1609.7 916.7,1598.8 M912.4,1617.3 L427.7,1896.6 Q414.6,1904.2 395.0,1893.2 L318.8,1847.7" stroke="#111" stroke-width="1.1" fill="none" stroke-linejoin="round" stroke-linecap="round" />
<path d="M909.2,1609.5 L425.6,1888.3 Q413.0,1895.5 396.2,1886.2 L319.6,1842.2 Q316.2,1839.1 318.0,1835.4" stroke="#111" stroke-width="1.1" fill="none" stroke-linejoin="round" stroke-linecap="round" />
<path d="M909.2,1609.5 Q918.5,1602.8 910.8,1589.6" stroke="#111" stroke-width="1.1" fill="none" stroke-linejoin="round" stroke-linecap="round" />
<path d="M905.6,1611.6 L915.9,1619.2" stroke="#111" stroke-width="1.0" fill="none" stroke-linejoin="round" stroke-linecap="round" />
<path d="M422.4,1890.1 L433.3,1897.3" stroke="#111" stroke-width="1.0" fill="none" stroke-linejoin="round" stroke-linecap="round" />
<path d="M390.3,1895.9 L396.2,1886.2" stroke="#111" stroke-width="1.0" fill="none" stroke-linejoin="round" stroke-linecap="round" />
<path d="M428.8,1848.4 L611.2,1743.4" stroke="#111" stroke-width="1.2" fill="none" stroke-linejoin="round" stroke-linecap="round" />
<path d="M679.3,1704.1 L866.8,1594.8" stroke="#111" stroke-width="1.2" fill="none" stroke-linejoin="round" stroke-linecap="round" />
<path d="M313.1,1838.6 C318.3,1835.5 334.4,1826.1 344.4,1820.3 C354.3,1814.6 363.7,1808.5 372.6,1804.0 C381.5,1799.5 391.7,1795.3 397.8,1793.2 C403.8,1791.2 404.7,1791.1 408.9,1791.5 C413.1,1791.9 419.1,1793.6 422.8,1795.8 C426.6,1798.0 429.2,1801.1 431.2,1804.7 C433.1,1808.3 434.2,1813.0 434.5,1817.4 C434.8,1821.8 433.7,1826.1 432.8,1831.2 C431.8,1836.4 430.8,1842.9 428.8,1848.4 C426.8,1854.0 423.1,1859.1 420.9,1864.5 C418.6,1870.0 416.4,1876.6 415.3,1881.2 C414.1,1885.8 414.5,1889.4 414.1,1892.3 C413.7,1895.3 412.6,1897.1 413.0,1899.0 C413.3,1900.8 415.6,1902.5 416.2,1903.3" stroke="#111" stroke-width="1.2" fill="none" stroke-linejoin="round" stroke-linecap="round" />
<path d="M314.0,1839.1 C319.5,1836.2 337.0,1826.9 346.8,1821.7 C356.6,1816.5 364.1,1812.1 372.6,1807.9 C381.1,1803.7 391.7,1798.7 397.8,1796.6 C403.8,1794.4 405.2,1794.9 408.9,1795.1 C412.6,1795.4 417.0,1796.2 420.0,1798.1 C423.0,1800.0 425.5,1803.2 426.7,1806.4 C428.0,1809.6 427.9,1813.3 427.5,1817.4 C427.0,1821.6 425.2,1826.7 423.8,1831.3 C422.5,1835.9 421.3,1840.1 419.3,1845.2 C417.2,1850.2 413.5,1855.8 411.4,1861.8 C409.3,1867.8 407.5,1876.2 406.6,1881.3 C405.7,1886.4 406.1,1889.6 406.0,1892.4 C406.0,1895.2 404.8,1895.9 406.3,1897.9 C407.7,1899.8 413.2,1903.1 414.6,1904.2" stroke="#111" stroke-width="1.2" fill="none" stroke-linejoin="round" stroke-linecap="round" />
<path d="M419.3,1845.2 L428.8,1848.4" stroke="#111" stroke-width="1.0" fill="none" stroke-linejoin="round" stroke-linecap="round" />
<polygon points="340.6,1848.4 356.0,1833.1 398.3,1857.2 382.5,1875.0" fill="#fff" stroke="#111" stroke-width="1.2" stroke-linejoin="round"/>
<polygon points="344.6,1847.9 360.9,1838.4 355.9,1855.1" stroke="#111" stroke-width="1.1" fill="#fff" stroke-linejoin="round"/>
<text x="353.3" y="1850.5" font-size="10.0" font-weight="bold" fill="#fff" stroke="#111" stroke-width="0.9" text-anchor="middle" transform="rotate(30 353.3 1847.3)">e</text>
<text x="372.6" y="1859.7" font-size="12.0" font-weight="bold" fill="#fff" stroke="#111" stroke-width="1.0" text-anchor="middle" letter-spacing="0.6" transform="rotate(31 372.6 1855.7)">volux</text>
<ellipse cx="392.6" cy="1858.0" rx="2.3" ry="2.3" stroke="#111" stroke-width="0.8" fill="#111"/>
<ellipse cx="387.9" cy="1833.0" rx="11.8" ry="10.5" stroke="#111" stroke-width="1.4" fill="none" transform="rotate(-25 387.9 1833.0)"/>
<path d="M378.4,1837.5 A9.5,5.0 0 0 1 396.9,1835.0" stroke="#111" stroke-width="1.0" fill="none" stroke-linejoin="round" stroke-linecap="round" />
<ellipse cx="443.3" cy="1782.2" rx="12.0" ry="7.0" stroke="#111" stroke-width="1.3" fill="none"/>
<ellipse cx="443.6" cy="1782.6" rx="10.6" ry="5.8" stroke="#111" stroke-width="0.8" fill="none"/>
<ellipse cx="528.7" cy="1733.0" rx="12.0" ry="7.0" stroke="#111" stroke-width="1.3" fill="none"/>
<ellipse cx="529.0" cy="1733.4" rx="10.6" ry="5.8" stroke="#111" stroke-width="0.8" fill="none"/>
<ellipse cx="703.2" cy="1632.4" rx="12.0" ry="7.0" stroke="#111" stroke-width="1.3" fill="none"/>
<ellipse cx="703.5" cy="1632.8" rx="10.6" ry="5.8" stroke="#111" stroke-width="0.8" fill="none"/>
<ellipse cx="790.7" cy="1582.0" rx="12.0" ry="7.0" stroke="#111" stroke-width="1.3" fill="none"/>
<ellipse cx="791.0" cy="1582.4" rx="10.6" ry="5.8" stroke="#111" stroke-width="0.8" fill="none"/>
<path d="M797.6,1557.3 C793.8,1568.9 802.3,1576.6 821.2,1578.2 C845.8,1583.0 865.0,1590.8 887.2,1593.1 L915.2,1592.1" stroke="#111" stroke-width="1.2" fill="none" stroke-linejoin="round" stroke-linecap="round" />
<path d="M803.3,1553.3 C799.0,1564.6 808.6,1572.9 826.5,1575.2 C846.6,1578.7 863.1,1585.6 882.2,1588.5 L915.2,1592.1" stroke="#111" stroke-width="1.1" fill="none" stroke-linejoin="round" stroke-linecap="round" />
<path d="M814.1,1544.5 Q812.2,1549.4 816.6,1550.7" stroke="#111" stroke-width="1.0" fill="none" stroke-linejoin="round" stroke-linecap="round" />
<polygon points="829.3,1556.0 833.4,1552.3 892.0,1580.3 888.4,1584.2" stroke="#111" stroke-width="1.4" fill="#fff" stroke-linejoin="round"/>
<line x1="836.3" y1="1556.9" x2="884.9" y2="1579.3" stroke="#444" stroke-width="3.2"/>
<line x1="832.5" y1="1555.4" x2="888.8" y2="1580.9" stroke="#111" stroke-width="1.0"/>
<ellipse cx="844.0" cy="1568.9" rx="11.0" ry="4.8" stroke="#111" stroke-width="1.3" fill="none" transform="rotate(8 844.0 1568.9)"/>
<path d="M537.7,1708.4 C560,1715 595,1735 616.2,1761 L700.4,1711.7 C699,1690 690,1665 675,1652 C668,1647 660,1645.5 653,1645.9 C645,1646.5 637,1651 618.5,1663.1 L537.7,1708.4 Z" stroke="#111" stroke-width="1.6" fill="#fff" stroke-linejoin="round" stroke-linecap="round" />
<path d="M616.2,1761 L700.4,1711.7" stroke="#111" stroke-width="2.0" fill="none" stroke-linejoin="round" stroke-linecap="round" />
<path d="M617.3,1663.7 C640,1664 675,1678 700.4,1711.7" stroke="#111" stroke-width="1.2" fill="none" stroke-linejoin="round" stroke-linecap="round" />
<ellipse cx="616.7" cy="1711.7" rx="40.6" ry="24.0" stroke="#111" stroke-width="1.4" fill="#fff"/>
<ellipse cx="616.9" cy="1712.5" rx="35.0" ry="20.3" stroke="#111" stroke-width="1.6" fill="none"/>
<ellipse cx="616.9" cy="1713.5" rx="33.0" ry="18.5" stroke="#111" stroke-width="1.0" fill="none"/>
<path d="M593.9,1695.1 C610,1705 630,1718 643.2,1725.9" stroke="#111" stroke-width="1.1" fill="none" stroke-linejoin="round" stroke-linecap="round" />
<path d="M596,1692.5 C612,1702 632,1715 645.5,1723.5" stroke="#111" stroke-width="1.1" fill="none" stroke-linejoin="round" stroke-linecap="round" />
<line x1="641.0" y1="1727.0" x2="642.0" y2="1735.0" stroke="#111" stroke-width="1.0"/>
<line x1="644.5" y1="1725.0" x2="645.5" y2="1733.0" stroke="#111" stroke-width="1.0"/>
<ellipse cx="622.8" cy="1706.2" rx="7.0" ry="4.5" stroke="#111" stroke-width="1.3" fill="none"/>
<ellipse cx="657.9" cy="1688.3" rx="3.5" ry="2.5" stroke="#111" stroke-width="1.0" fill="none"/>
<path d="M553,1717 L560,1714 M557,1712 L558,1721" stroke="#111" stroke-width="1.8" fill="none" stroke-linejoin="round" stroke-linecap="round" />
<path d="M580.3,1587.0 Q575.9,1589.0 575.9,1596.0 L575.9,1618.0 A40.7,22 0 0 0 657.3,1618.0 L657.3,1596.0 Q657.3,1589.0 652.9,1587.0" stroke="#111" stroke-width="1.4" fill="#fff" stroke-linejoin="round" stroke-linecap="round" />
<path d="M587.2,1069.6 A29.6,17.3 0 0 1 646.5,1069.6 L653.9,1600.7 A36.0,17.3 0 0 1 579.9,1600.7 Z" fill="#fff" stroke="none"/>
<ellipse cx="616.9" cy="1069.6" rx="29.6" ry="17.3" stroke="#111" stroke-width="1.5999999999999999" fill="none"/>
<ellipse cx="616.9" cy="1070.2" rx="26.3" ry="13.0" stroke="#111" stroke-width="1.0" fill="none"/>
<ellipse cx="616.9" cy="1068.1" rx="13.9" ry="8.0" stroke="#111" stroke-width="2.3" fill="none"/>
<ellipse cx="616.9" cy="1068.6" rx="11.0" ry="5.7" stroke="#111" stroke-width="0.8" fill="none"/>
<path d="M608.6,1071.6 A8.9,3.5 0 0 1 625.1,1071.6" stroke="#111" stroke-width="1.6" fill="none" stroke-linejoin="round" stroke-linecap="round" />
<line x1="587.2" y1="1069.6" x2="587.2" y2="1387.4" stroke="#111" stroke-width="1.4"/>
<line x1="646.5" y1="1069.6" x2="646.5" y2="1387.4" stroke="#111" stroke-width="1.4"/>
<path d="M587.2,1071.0 A29.6,17.3 0 0 0 646.5,1071.0" stroke="#111" stroke-width="1.2" fill="none" stroke-linejoin="round" stroke-linecap="round" />
<path d="M587.2,1095.1 A29.6,17.3 0 0 0 646.5,1095.1" stroke="#111" stroke-width="2.0" fill="none" stroke-linejoin="round" stroke-linecap="round" />
<path d="M587.2,1192.0 A29.6,17.3 0 0 0 646.5,1192.0" stroke="#111" stroke-width="2.0" fill="none" stroke-linejoin="round" stroke-linecap="round" />
<path d="M587.2,1233.7 A29.6,17.3 0 0 0 646.5,1233.7" stroke="#111" stroke-width="2.0" fill="none" stroke-linejoin="round" stroke-linecap="round" />
<path d="M587.2,1299.7 A29.6,17.3 0 0 0 646.5,1299.7" stroke="#111" stroke-width="2.0" fill="none" stroke-linejoin="round" stroke-linecap="round" />
<path d="M587.2,1387.4 A29.6,17.3 0 0 0 646.5,1387.4" stroke="#111" stroke-width="2.0" fill="none" stroke-linejoin="round" stroke-linecap="round" />
<path d="M586.9,1387.4 A30.0,17.3 0 0 0 646.9,1387.4" stroke="#111" stroke-width="2.0" fill="none" stroke-linejoin="round" stroke-linecap="round" />
<path d="M586.6,1393.7 A30.2,17.4 0 0 0 647.1,1393.7" stroke="#111" stroke-width="1.3" fill="none" stroke-linejoin="round" stroke-linecap="round" />
<path d="M586.4,1399.9 A30.4,17.6 0 0 0 647.3,1399.9" stroke="#111" stroke-width="1.3" fill="none" stroke-linejoin="round" stroke-linecap="round" />
<path d="M586.2,1406.2 A30.7,17.7 0 0 0 647.5,1406.2" stroke="#111" stroke-width="1.3" fill="none" stroke-linejoin="round" stroke-linecap="round" />
<path d="M586.0,1412.4 A30.9,17.8 0 0 0 647.7,1412.4" stroke="#111" stroke-width="1.3" fill="none" stroke-linejoin="round" stroke-linecap="round" />
<path d="M585.7,1418.7 A31.1,17.9 0 0 0 648.0,1418.7" stroke="#111" stroke-width="1.3" fill="none" stroke-linejoin="round" stroke-linecap="round" />
<path d="M585.5,1425.0 A31.3,18.1 0 0 0 648.2,1425.0" stroke="#111" stroke-width="1.3" fill="none" stroke-linejoin="round" stroke-linecap="round" />
<path d="M585.3,1431.2 A31.5,18.2 0 0 0 648.4,1431.2" stroke="#111" stroke-width="1.3" fill="none" stroke-linejoin="round" stroke-linecap="round" />
<path d="M585.1,1437.5 A31.8,18.3 0 0 0 648.6,1437.5" stroke="#111" stroke-width="1.3" fill="none" stroke-linejoin="round" stroke-linecap="round" />
<path d="M584.9,1443.7 A32.0,18.5 0 0 0 648.8,1443.7" stroke="#111" stroke-width="1.3" fill="none" stroke-linejoin="round" stroke-linecap="round" />
<path d="M584.6,1450.0 A32.2,18.6 0 0 0 649.1,1450.0" stroke="#111" stroke-width="1.3" fill="none" stroke-linejoin="round" stroke-linecap="round" />
<path d="M584.4,1456.3 A32.4,18.7 0 0 0 649.3,1456.3" stroke="#111" stroke-width="1.3" fill="none" stroke-linejoin="round" stroke-linecap="round" />
<path d="M584.2,1462.5 A32.6,18.8 0 0 0 649.5,1462.5" stroke="#111" stroke-width="1.3" fill="none" stroke-linejoin="round" stroke-linecap="round" />
<path d="M584.0,1468.8 A32.9,19.0 0 0 0 649.7,1468.8" stroke="#111" stroke-width="1.3" fill="none" stroke-linejoin="round" stroke-linecap="round" />
<path d="M583.8,1475.0 A33.1,19.1 0 0 0 649.9,1475.0" stroke="#111" stroke-width="1.3" fill="none" stroke-linejoin="round" stroke-linecap="round" />
<path d="M583.5,1481.3 A33.3,19.2 0 0 0 650.2,1481.3" stroke="#111" stroke-width="1.3" fill="none" stroke-linejoin="round" stroke-linecap="round" />
<path d="M583.3,1487.6 A33.5,19.4 0 0 0 650.4,1487.6" stroke="#111" stroke-width="1.3" fill="none" stroke-linejoin="round" stroke-linecap="round" />
<path d="M583.1,1493.8 A33.8,19.5 0 0 0 650.6,1493.8" stroke="#111" stroke-width="1.3" fill="none" stroke-linejoin="round" stroke-linecap="round" />
<path d="M582.9,1500.1 A34.0,19.6 0 0 0 650.8,1500.1" stroke="#111" stroke-width="1.3" fill="none" stroke-linejoin="round" stroke-linecap="round" />
<path d="M582.7,1506.4 A34.2,19.8 0 0 0 651.0,1506.4" stroke="#111" stroke-width="1.3" fill="none" stroke-linejoin="round" stroke-linecap="round" />
<path d="M582.4,1512.6 A34.4,19.9 0 0 0 651.3,1512.6" stroke="#111" stroke-width="1.3" fill="none" stroke-linejoin="round" stroke-linecap="round" />
<path d="M582.2,1518.9 A34.6,20.0 0 0 0 651.5,1518.9" stroke="#111" stroke-width="1.3" fill="none" stroke-linejoin="round" stroke-linecap="round" />
<path d="M582.0,1525.1 A34.9,20.1 0 0 0 651.7,1525.1" stroke="#111" stroke-width="1.3" fill="none" stroke-linejoin="round" stroke-linecap="round" />
<path d="M581.8,1531.4 A35.1,20.3 0 0 0 651.9,1531.4" stroke="#111" stroke-width="1.3" fill="none" stroke-linejoin="round" stroke-linecap="round" />
<path d="M581.6,1537.7 A35.3,20.4 0 0 0 652.1,1537.7" stroke="#111" stroke-width="1.3" fill="none" stroke-linejoin="round" stroke-linecap="round" />
<path d="M581.3,1543.9 A35.5,20.5 0 0 0 652.4,1543.9" stroke="#111" stroke-width="1.3" fill="none" stroke-linejoin="round" stroke-linecap="round" />
<path d="M581.1,1550.2 A35.7,20.7 0 0 0 652.6,1550.2" stroke="#111" stroke-width="1.3" fill="none" stroke-linejoin="round" stroke-linecap="round" />
<path d="M580.9,1556.4 A36.0,20.8 0 0 0 652.8,1556.4" stroke="#111" stroke-width="1.3" fill="none" stroke-linejoin="round" stroke-linecap="round" />
<path d="M580.7,1562.7 A36.2,20.9 0 0 0 653.0,1562.7" stroke="#111" stroke-width="1.3" fill="none" stroke-linejoin="round" stroke-linecap="round" />
<path d="M580.5,1569.0 A36.4,21.0 0 0 0 653.2,1569.0" stroke="#111" stroke-width="1.3" fill="none" stroke-linejoin="round" stroke-linecap="round" />
<path d="M587.2,1387.4 Q585.6,1390.5 586.6,1393.7 Q585.4,1396.7 586.4,1399.9 Q585.2,1403.0 586.2,1406.2 Q585.0,1409.2 586.0,1412.4 Q584.7,1415.5 585.7,1418.7 Q584.5,1421.8 585.5,1425.0 Q584.3,1428.0 585.3,1431.2 Q584.1,1434.3 585.1,1437.5 Q583.9,1440.6 584.9,1443.7 Q583.6,1446.8 584.6,1450.0 Q583.4,1453.1 584.4,1456.3 Q583.2,1459.3 584.2,1462.5 Q583.0,1465.6 584.0,1468.8 Q582.8,1471.9 583.8,1475.0 Q582.5,1478.1 583.5,1481.3 Q582.3,1484.4 583.3,1487.6 Q582.1,1490.6 583.1,1493.8 Q581.9,1496.9 582.9,1500.1 Q581.7,1503.2 582.7,1506.4 Q581.4,1509.4 582.4,1512.6 Q581.2,1515.7 582.2,1518.9 Q581.0,1521.9 582.0,1525.1 Q580.8,1528.2 581.8,1531.4 Q580.6,1534.5 581.6,1537.7 Q580.3,1540.7 581.3,1543.9 Q580.1,1547.0 581.1,1550.2 Q579.9,1553.2 580.9,1556.4 Q579.7,1559.5 580.7,1562.7 Q579.5,1565.8 580.5,1569.0 L580.5,1600.7" stroke="#111" stroke-width="1.4" fill="none" stroke-linejoin="round" stroke-linecap="round" />
<path d="M646.5,1387.4 Q648.1,1390.5 647.1,1393.7 Q648.3,1396.7 647.3,1399.9 Q648.5,1403.0 647.5,1406.2 Q648.7,1409.2 647.7,1412.4 Q649.0,1415.5 648.0,1418.7 Q649.2,1421.8 648.2,1425.0 Q649.4,1428.0 648.4,1431.2 Q649.6,1434.3 648.6,1437.5 Q649.8,1440.6 648.8,1443.7 Q650.1,1446.8 649.1,1450.0 Q650.3,1453.1 649.3,1456.3 Q650.5,1459.3 649.5,1462.5 Q650.7,1465.6 649.7,1468.8 Q650.9,1471.9 649.9,1475.0 Q651.2,1478.1 650.2,1481.3 Q651.4,1484.4 650.4,1487.6 Q651.6,1490.6 650.6,1493.8 Q651.8,1496.9 650.8,1500.1 Q652.0,1503.2 651.0,1506.4 Q652.3,1509.4 651.3,1512.6 Q652.5,1515.7 651.5,1518.9 Q652.7,1521.9 651.7,1525.1 Q652.9,1528.2 651.9,1531.4 Q653.1,1534.5 652.1,1537.7 Q653.4,1540.7 652.4,1543.9 Q653.6,1547.0 652.6,1550.2 Q653.8,1553.2 652.8,1556.4 Q654.0,1559.5 653.0,1562.7 Q654.2,1565.8 653.2,1569.0 L653.2,1600.7" stroke="#111" stroke-width="1.4" fill="none" stroke-linejoin="round" stroke-linecap="round" />
<path d="M580.5,1597.0 A36.4,21.0 0 0 0 653.2,1597.0" stroke="#111" stroke-width="1.4" fill="none" stroke-linejoin="round" stroke-linecap="round" />
<path d="M577.9,1603.0 A38.7,18 0 0 0 655.3,1603.0" stroke="#111" stroke-width="2.0" fill="none" stroke-linejoin="round" stroke-linecap="round" />
</g>
<g id="right">
<path d="M1433.1,1690.0 L2050.2,1335.6 Q2059.6,1329.8 2066.9,1334.0 L2171.2,1393.2 C2187.9,1402.7 2189.2,1414.6 2177.7,1430.5 L1576.9,1775.5 Q1551.4,1790.1 1522.5,1773.7 L1429.1,1714.6 Q1412.2,1702.0 1433.1,1690.0 Z" stroke="#111" stroke-width="1.6" fill="#fff" stroke-linejoin="round" stroke-linecap="round" />
<path d="M1426.6,1693.8 L2050.2,1335.6" stroke="#111" stroke-width="2.3" fill="none" stroke-linejoin="round" stroke-linecap="round" />
<path d="M1432.0,1696.8 L2049.1,1342.5" stroke="#111" stroke-width="1.1" fill="none" stroke-linejoin="round" stroke-linecap="round" />
<path d="M2173.4,1428.0 Q2189.7,1418.6 2178.6,1404.8 M2173.4,1428.0 L1569.3,1774.9 Q1553.0,1784.3 1528.4,1770.3 L1433.0,1712.3" stroke="#111" stroke-width="1.1" fill="none" stroke-linejoin="round" stroke-linecap="round" />
<path d="M2169.3,1418.3 L1566.6,1764.4 Q1550.9,1773.4 1530.0,1761.5 L1434.0,1705.4 Q1429.7,1701.5 1432.0,1696.8" stroke="#111" stroke-width="1.1" fill="none" stroke-linejoin="round" stroke-linecap="round" />
<path d="M2169.3,1418.3 Q2180.9,1409.9 2171.2,1393.2" stroke="#111" stroke-width="1.1" fill="none" stroke-linejoin="round" stroke-linecap="round" />
<path d="M2164.8,1420.9 L2177.7,1430.5" stroke="#111" stroke-width="1.0" fill="none" stroke-linejoin="round" stroke-linecap="round" />
<path d="M1562.7,1766.6 L1576.3,1775.8" stroke="#111" stroke-width="1.0" fill="none" stroke-linejoin="round" stroke-linecap="round" />
<path d="M1522.5,1773.7 L1530.0,1761.5" stroke="#111" stroke-width="1.0" fill="none" stroke-linejoin="round" stroke-linecap="round" />
<path d="M1570.4,1714.3 L1797.7,1583.8" stroke="#111" stroke-width="1.2" fill="none" stroke-linejoin="round" stroke-linecap="round" />
<path d="M1882.6,1535.1 L2116.3,1399.3" stroke="#111" stroke-width="1.2" fill="none" stroke-linejoin="round" stroke-linecap="round" />
<path d="M1425.9,1700.8 C1432.4,1697.0 1452.4,1685.3 1464.8,1678.2 C1477.2,1671.0 1488.9,1663.5 1500.0,1657.9 C1511.1,1652.3 1523.8,1647.2 1531.4,1644.6 C1538.9,1642.0 1540.1,1641.9 1545.3,1642.5 C1550.5,1643.1 1558.1,1645.3 1562.7,1648.1 C1567.4,1650.9 1570.7,1654.8 1573.2,1659.3 C1575.6,1663.9 1577.0,1669.7 1577.4,1675.3 C1577.8,1680.9 1576.5,1686.2 1575.3,1692.7 C1574.1,1699.2 1572.9,1707.3 1570.4,1714.3 C1568.0,1721.3 1563.4,1727.6 1560.6,1734.5 C1557.8,1741.3 1555.1,1749.6 1553.7,1755.4 C1552.3,1761.2 1552.8,1765.7 1552.3,1769.4 C1551.9,1773.1 1550.5,1775.4 1550.9,1777.7 C1551.4,1780.0 1554.3,1782.2 1555.0,1783.1" stroke="#111" stroke-width="1.2" fill="none" stroke-linejoin="round" stroke-linecap="round" />
<path d="M1427.0,1701.5 C1433.8,1697.9 1455.7,1686.3 1467.9,1679.9 C1480.0,1673.5 1489.4,1668.0 1500.0,1662.8 C1510.6,1657.6 1523.9,1651.4 1531.4,1648.8 C1539.0,1646.2 1540.7,1646.7 1545.3,1647.1 C1550.0,1647.4 1555.5,1648.5 1559.2,1650.9 C1562.9,1653.3 1566.1,1657.3 1567.6,1661.4 C1569.2,1665.5 1569.2,1670.1 1568.6,1675.3 C1568.0,1680.5 1565.8,1686.9 1564.1,1692.7 C1562.5,1698.5 1561.1,1703.7 1558.5,1710.1 C1556.0,1716.5 1551.4,1723.4 1548.8,1731.0 C1546.2,1738.5 1544.0,1749.0 1542.9,1755.4 C1541.8,1761.8 1542.3,1765.9 1542.2,1769.4 C1542.1,1772.9 1540.7,1773.8 1542.5,1776.3 C1544.3,1778.8 1551.3,1782.9 1553.0,1784.3" stroke="#111" stroke-width="1.2" fill="none" stroke-linejoin="round" stroke-linecap="round" />
<path d="M1558.5,1710.1 L1570.4,1714.3" stroke="#111" stroke-width="1.0" fill="none" stroke-linejoin="round" stroke-linecap="round" />
<polygon points="1460.3,1713.4 1479.4,1694.3 1532.4,1725.1 1512.7,1747.3" fill="#fff" stroke="#111" stroke-width="1.2" stroke-linejoin="round"/>
<polygon points="1465.2,1712.8 1485.6,1701.1 1479.4,1722.0" stroke="#111" stroke-width="1.1" fill="#fff" stroke-linejoin="round"/>
<text x="1476.1" y="1716.2" font-size="12.5" font-weight="bold" fill="#fff" stroke="#111" stroke-width="0.9" text-anchor="middle" transform="rotate(30 1476.1 1712.2)">e</text>
<text x="1500.2" y="1727.9" font-size="15.0" font-weight="bold" fill="#fff" stroke="#111" stroke-width="1.0" text-anchor="middle" letter-spacing="0.8" transform="rotate(31 1500.2 1722.9)">volux</text>
<ellipse cx="1525.3" cy="1726.0" rx="2.9" ry="2.9" stroke="#111" stroke-width="0.8" fill="#111"/>
<ellipse cx="1519.2" cy="1694.5" rx="14.8" ry="13.1" stroke="#111" stroke-width="1.4" fill="none" transform="rotate(-25 1519.2 1694.5)"/>
<path d="M1507.4,1700.2 A11.9,6.2 0 0 1 1530.5,1697.0" stroke="#111" stroke-width="1.0" fill="none" stroke-linejoin="round" stroke-linecap="round" />
<ellipse cx="1588.2" cy="1631.1" rx="15.0" ry="8.8" stroke="#111" stroke-width="1.3" fill="none"/>
<ellipse cx="1588.5" cy="1631.6" rx="13.2" ry="7.2" stroke="#111" stroke-width="0.8" fill="none"/>
<ellipse cx="1694.6" cy="1570.0" rx="15.0" ry="8.8" stroke="#111" stroke-width="1.3" fill="none"/>
<ellipse cx="1695.0" cy="1570.5" rx="13.2" ry="7.2" stroke="#111" stroke-width="0.8" fill="none"/>
<ellipse cx="1912.1" cy="1445.1" rx="15.0" ry="8.8" stroke="#111" stroke-width="1.3" fill="none"/>
<ellipse cx="1912.4" cy="1445.6" rx="13.2" ry="7.2" stroke="#111" stroke-width="0.8" fill="none"/>
<ellipse cx="2021.1" cy="1382.5" rx="15.0" ry="8.8" stroke="#111" stroke-width="1.3" fill="none"/>
<ellipse cx="2021.5" cy="1383.0" rx="13.2" ry="7.2" stroke="#111" stroke-width="0.8" fill="none"/>
<path d="M2029.7,1351.6 C2024.9,1366.0 2035.6,1375.8 2059.3,1378.1 C2089.9,1384.3 2114.0,1394.3 2141.8,1397.4 L2176.8,1396.4" stroke="#111" stroke-width="1.2" fill="none" stroke-linejoin="round" stroke-linecap="round" />
<path d="M2036.7,1346.6 C2031.4,1360.7 2043.4,1371.3 2065.8,1374.3 C2091.0,1378.9 2111.6,1387.7 2135.4,1391.5 L2176.8,1396.4" stroke="#111" stroke-width="1.1" fill="none" stroke-linejoin="round" stroke-linecap="round" />
<path d="M2050.2,1335.6 Q2047.8,1341.7 2053.3,1343.4" stroke="#111" stroke-width="1.0" fill="none" stroke-linejoin="round" stroke-linecap="round" />
<polygon points="2069.2,1350.1 2074.3,1345.6 2147.7,1381.3 2143.2,1386.2" stroke="#111" stroke-width="1.4" fill="#fff" stroke-linejoin="round"/>
<line x1="2078.0" y1="1351.4" x2="2138.8" y2="1380.0" stroke="#444" stroke-width="4.0"/>
<line x1="2073.2" y1="1349.4" x2="2143.7" y2="1382.0" stroke="#111" stroke-width="1.0"/>
<ellipse cx="2087.6" cy="1366.6" rx="13.8" ry="6.0" stroke="#111" stroke-width="1.3" fill="none" transform="rotate(8 2087.6 1366.6)"/>
<g transform="translate(1034.5 -597.5) scale(1.25)">
<path d="M537.7,1708.4 C560,1715 595,1735 616.2,1761 L700.4,1711.7 C699,1690 690,1665 675,1652 C668,1647 660,1645.5 653,1645.9 C645,1646.5 637,1651 618.5,1663.1 L537.7,1708.4 Z" stroke="#111" stroke-width="1.3" fill="#fff" stroke-linejoin="round" stroke-linecap="round" />
<path d="M616.2,1761 L700.4,1711.7" stroke="#111" stroke-width="1.7" fill="none" stroke-linejoin="round" stroke-linecap="round" />
</g>
<path d="M1751.5,1516.4 C1752,1530 1775,1543 1805,1546.3 C1830,1548 1850,1538 1852.1,1508" stroke="#111" stroke-width="1.4" fill="#fff" stroke-linejoin="round" stroke-linecap="round" />
<path d="M1760,1512 C1762,1525 1780,1535 1805,1537 C1830,1537 1846,1528 1848,1505" stroke="#111" stroke-width="1.1" fill="none" stroke-linejoin="round" stroke-linecap="round" />
<path d="M1852,1490 C1862,1500 1862,1515 1852.1,1525" stroke="#111" stroke-width="1.1" fill="none" stroke-linejoin="round" stroke-linecap="round" />
<ellipse cx="1752.3" cy="1537.2" rx="9.5" ry="6.2" stroke="#111" stroke-width="1.3" fill="#fff"/>
<ellipse cx="1752.3" cy="1537.7" rx="6.5" ry="4.0" stroke="#111" stroke-width="1.0" fill="none"/>
<line x1="1750.8" y1="1534.7" x2="1750.8" y2="1540.2" stroke="#111" stroke-width="0.8"/>
<line x1="1753.8" y1="1534.7" x2="1753.8" y2="1540.2" stroke="#111" stroke-width="0.8"/>
<ellipse cx="1856.3" cy="1478.1" rx="9.5" ry="6.2" stroke="#111" stroke-width="1.3" fill="#fff"/>
<ellipse cx="1856.3" cy="1478.6" rx="6.5" ry="4.0" stroke="#111" stroke-width="1.0" fill="none"/>
<line x1="1854.8" y1="1475.6" x2="1854.8" y2="1481.1" stroke="#111" stroke-width="0.8"/>
<line x1="1857.8" y1="1475.6" x2="1857.8" y2="1481.1" stroke="#111" stroke-width="0.8"/>
<path d="M1721,1549 L1731,1544 L1729,1552 M1734,1540 L1745,1536 L1741,1545" stroke="#111" stroke-width="2.0" fill="none" stroke-linejoin="round" stroke-linecap="round" />
<path d="M1766.7,871.6 A37.6,22.8 0 0 1 1841.8,871.6 L1849.5,1504.2 A44.2,22.8 0 0 1 1759.0,1504.2 Z" fill="#fff" stroke="none"/>
<ellipse cx="1804.2" cy="871.6" rx="37.6" ry="22.8" stroke="#111" stroke-width="1.5999999999999999" fill="none"/>
<ellipse cx="1804.2" cy="872.2" rx="33.5" ry="17.1" stroke="#111" stroke-width="1.0" fill="none"/>
<ellipse cx="1804.2" cy="870.1" rx="17.7" ry="10.5" stroke="#111" stroke-width="2.3" fill="none"/>
<ellipse cx="1804.2" cy="870.6" rx="13.9" ry="7.5" stroke="#111" stroke-width="0.8" fill="none"/>
<path d="M1793.7,873.6 A11.3,4.6 0 0 1 1814.8,873.6" stroke="#111" stroke-width="1.6" fill="none" stroke-linejoin="round" stroke-linecap="round" />
<line x1="1766.7" y1="871.6" x2="1766.7" y2="1274.8" stroke="#111" stroke-width="1.4"/>
<line x1="1841.8" y1="871.6" x2="1841.8" y2="1274.8" stroke="#111" stroke-width="1.4"/>
<path d="M1766.7,871.2 A37.6,22.8 0 0 0 1841.8,871.2" stroke="#111" stroke-width="1.2" fill="none" stroke-linejoin="round" stroke-linecap="round" />
<path d="M1766.7,901.3 A37.6,22.8 0 0 0 1841.8,901.3" stroke="#111" stroke-width="2.0" fill="none" stroke-linejoin="round" stroke-linecap="round" />
<path d="M1766.7,1023.8 A37.6,22.8 0 0 0 1841.8,1023.8" stroke="#111" stroke-width="1.8" fill="none" stroke-linejoin="round" stroke-linecap="round" />
<path d="M1766.7,1077.1 A37.6,22.8 0 0 0 1841.8,1077.1" stroke="#111" stroke-width="1.8" fill="none" stroke-linejoin="round" stroke-linecap="round" />
<path d="M1766.7,1160.2 A37.6,22.8 0 0 0 1841.8,1160.2" stroke="#111" stroke-width="1.8" fill="none" stroke-linejoin="round" stroke-linecap="round" />
<path d="M1766.2,1274.8 A38.0,22.8 0 0 0 1842.2,1274.8" stroke="#111" stroke-width="2.0" fill="none" stroke-linejoin="round" stroke-linecap="round" />
<path d="M1766.0,1282.6 A38.2,22.9 0 0 0 1842.5,1282.6" stroke="#111" stroke-width="1.3" fill="none" stroke-linejoin="round" stroke-linecap="round" />
<path d="M1765.8,1290.3 A38.5,23.1 0 0 0 1842.7,1290.3" stroke="#111" stroke-width="1.3" fill="none" stroke-linejoin="round" stroke-linecap="round" />
<path d="M1765.6,1298.1 A38.7,23.2 0 0 0 1842.9,1298.1" stroke="#111" stroke-width="1.3" fill="none" stroke-linejoin="round" stroke-linecap="round" />
<path d="M1765.3,1305.9 A38.9,23.4 0 0 0 1843.2,1305.9" stroke="#111" stroke-width="1.3" fill="none" stroke-linejoin="round" stroke-linecap="round" />
<path d="M1765.1,1313.7 A39.1,23.5 0 0 0 1843.4,1313.7" stroke="#111" stroke-width="1.3" fill="none" stroke-linejoin="round" stroke-linecap="round" />
<path d="M1764.9,1321.4 A39.4,23.6 0 0 0 1843.6,1321.4" stroke="#111" stroke-width="1.3" fill="none" stroke-linejoin="round" stroke-linecap="round" />
<path d="M1764.7,1329.2 A39.6,23.8 0 0 0 1843.8,1329.2" stroke="#111" stroke-width="1.3" fill="none" stroke-linejoin="round" stroke-linecap="round" />
<path d="M1764.4,1337.0 A39.8,23.9 0 0 0 1844.1,1337.0" stroke="#111" stroke-width="1.3" fill="none" stroke-linejoin="round" stroke-linecap="round" />
<path d="M1764.2,1344.8 A40.0,24.0 0 0 0 1844.3,1344.8" stroke="#111" stroke-width="1.3" fill="none" stroke-linejoin="round" stroke-linecap="round" />
<path d="M1764.0,1352.5 A40.3,24.2 0 0 0 1844.5,1352.5" stroke="#111" stroke-width="1.3" fill="none" stroke-linejoin="round" stroke-linecap="round" />
<path d="M1763.7,1360.3 A40.5,24.3 0 0 0 1844.8,1360.3" stroke="#111" stroke-width="1.3" fill="none" stroke-linejoin="round" stroke-linecap="round" />
<path d="M1763.5,1368.1 A40.7,24.5 0 0 0 1845.0,1368.1" stroke="#111" stroke-width="1.3" fill="none" stroke-linejoin="round" stroke-linecap="round" />
<path d="M1763.3,1375.8 A41.0,24.6 0 0 0 1845.2,1375.8" stroke="#111" stroke-width="1.3" fill="none" stroke-linejoin="round" stroke-linecap="round" />
<path d="M1763.1,1383.6 A41.2,24.7 0 0 0 1845.4,1383.6" stroke="#111" stroke-width="1.3" fill="none" stroke-linejoin="round" stroke-linecap="round" />
<path d="M1762.8,1391.4 A41.4,24.9 0 0 0 1845.7,1391.4" stroke="#111" stroke-width="1.3" fill="none" stroke-linejoin="round" stroke-linecap="round" />
<path d="M1762.6,1399.2 A41.6,25.0 0 0 0 1845.9,1399.2" stroke="#111" stroke-width="1.3" fill="none" stroke-linejoin="round" stroke-linecap="round" />
<path d="M1762.4,1406.9 A41.9,25.1 0 0 0 1846.1,1406.9" stroke="#111" stroke-width="1.3" fill="none" stroke-linejoin="round" stroke-linecap="round" />
<path d="M1762.2,1414.7 A42.1,25.3 0 0 0 1846.3,1414.7" stroke="#111" stroke-width="1.3" fill="none" stroke-linejoin="round" stroke-linecap="round" />
<path d="M1761.9,1422.5 A42.3,25.4 0 0 0 1846.6,1422.5" stroke="#111" stroke-width="1.3" fill="none" stroke-linejoin="round" stroke-linecap="round" />
<path d="M1761.7,1430.2 A42.6,25.6 0 0 0 1846.8,1430.2" stroke="#111" stroke-width="1.3" fill="none" stroke-linejoin="round" stroke-linecap="round" />
<path d="M1761.5,1438.0 A42.8,25.7 0 0 0 1847.0,1438.0" stroke="#111" stroke-width="1.3" fill="none" stroke-linejoin="round" stroke-linecap="round" />
<path d="M1761.2,1445.8 A43.0,25.8 0 0 0 1847.3,1445.8" stroke="#111" stroke-width="1.3" fill="none" stroke-linejoin="round" stroke-linecap="round" />
<path d="M1761.0,1453.6 A43.2,26.0 0 0 0 1847.5,1453.6" stroke="#111" stroke-width="1.3" fill="none" stroke-linejoin="round" stroke-linecap="round" />
<path d="M1760.8,1461.3 A43.5,26.1 0 0 0 1847.7,1461.3" stroke="#111" stroke-width="1.3" fill="none" stroke-linejoin="round" stroke-linecap="round" />
<path d="M1760.6,1469.1 A43.7,26.3 0 0 0 1847.9,1469.1" stroke="#111" stroke-width="1.3" fill="none" stroke-linejoin="round" stroke-linecap="round" />
<path d="M1760.3,1476.9 A43.9,26.4 0 0 0 1848.2,1476.9" stroke="#111" stroke-width="1.3" fill="none" stroke-linejoin="round" stroke-linecap="round" />
<path d="M1760.1,1484.7 A44.1,26.5 0 0 0 1848.4,1484.7" stroke="#111" stroke-width="1.3" fill="none" stroke-linejoin="round" stroke-linecap="round" />
<path d="M1759.9,1492.4 A44.4,26.7 0 0 0 1848.6,1492.4" stroke="#111" stroke-width="1.3" fill="none" stroke-linejoin="round" stroke-linecap="round" />
<path d="M1759.7,1500.2 A44.6,26.8 0 0 0 1848.8,1500.2" stroke="#111" stroke-width="1.3" fill="none" stroke-linejoin="round" stroke-linecap="round" />
<path d="M1766.7,1274.8 Q1765.0,1278.6 1766.0,1282.6 Q1764.8,1286.4 1765.8,1290.3 Q1764.6,1294.2 1765.6,1298.1 Q1764.3,1301.9 1765.3,1305.9 Q1764.1,1309.7 1765.1,1313.7 Q1763.9,1317.5 1764.9,1321.4 Q1763.7,1325.3 1764.7,1329.2 Q1763.4,1333.0 1764.4,1337.0 Q1763.2,1340.8 1764.2,1344.8 Q1763.0,1348.6 1764.0,1352.5 Q1762.7,1356.3 1763.7,1360.3 Q1762.5,1364.1 1763.5,1368.1 Q1762.3,1371.9 1763.3,1375.8 Q1762.1,1379.7 1763.1,1383.6 Q1761.8,1387.4 1762.8,1391.4 Q1761.6,1395.2 1762.6,1399.2 Q1761.4,1403.0 1762.4,1406.9 Q1761.2,1410.7 1762.2,1414.7 Q1760.9,1418.5 1761.9,1422.5 Q1760.7,1426.3 1761.7,1430.2 Q1760.5,1434.1 1761.5,1438.0 Q1760.2,1441.8 1761.2,1445.8 Q1760.0,1449.6 1761.0,1453.6 Q1759.8,1457.4 1760.8,1461.3 Q1759.6,1465.2 1760.6,1469.1 Q1759.3,1472.9 1760.3,1476.9 Q1759.1,1480.7 1760.1,1484.7 Q1758.9,1488.5 1759.9,1492.4 Q1758.6,1496.2 1759.6,1500.2 L1759.6,1504.2" stroke="#111" stroke-width="1.4" fill="none" stroke-linejoin="round" stroke-linecap="round" />
<path d="M1841.8,1274.8 Q1843.5,1278.6 1842.5,1282.6 Q1843.7,1286.4 1842.7,1290.3 Q1843.9,1294.2 1842.9,1298.1 Q1844.2,1301.9 1843.2,1305.9 Q1844.4,1309.7 1843.4,1313.7 Q1844.6,1317.5 1843.6,1321.4 Q1844.8,1325.3 1843.8,1329.2 Q1845.1,1333.0 1844.1,1337.0 Q1845.3,1340.8 1844.3,1344.8 Q1845.5,1348.6 1844.5,1352.5 Q1845.8,1356.3 1844.8,1360.3 Q1846.0,1364.1 1845.0,1368.1 Q1846.2,1371.9 1845.2,1375.8 Q1846.4,1379.7 1845.4,1383.6 Q1846.7,1387.4 1845.7,1391.4 Q1846.9,1395.2 1845.9,1399.2 Q1847.1,1403.0 1846.1,1406.9 Q1847.3,1410.7 1846.3,1414.7 Q1847.6,1418.5 1846.6,1422.5 Q1847.8,1426.3 1846.8,1430.2 Q1848.0,1434.1 1847.0,1438.0 Q1848.3,1441.8 1847.3,1445.8 Q1848.5,1449.6 1847.5,1453.6 Q1848.7,1457.4 1847.7,1461.3 Q1848.9,1465.2 1847.9,1469.1 Q1849.2,1472.9 1848.2,1476.9 Q1849.4,1480.7 1848.4,1484.7 Q1849.6,1488.5 1848.6,1492.4 Q1849.9,1496.2 1848.9,1500.2 L1848.9,1504.2" stroke="#111" stroke-width="1.4" fill="none" stroke-linejoin="round" stroke-linecap="round" />
<circle cx="1518.4" cy="1467.3" r="19.0" stroke="#111" stroke-width="1.5" fill="#fff"/>
<text x="1518.4" y="1477.8" font-size="29" font-weight="bold" text-anchor="middle" fill="#000" transform="translate(1518.4 0) scale(0.86 1) translate(-1518.4 0)">B</text>
<line x1="1518.4" y1="1486.3" x2="1518.4" y2="1515.1" stroke="#111" stroke-width="1.4"/>
<polygon points="1515.0,1515.1 1518.4,1534.6 1521.8,1515.1" stroke="#111" stroke-width="1.3" fill="#fff" stroke-linejoin="round"/>
<path d="M1507.2,1550.4 A12.2,6 0 0 0 1531.6,1550.4 L1531.6,1552.2 A12.2,6 0 0 1 1507.2,1552.2 Z" stroke="#111" stroke-width="1.2" fill="#fff" stroke-linejoin="round" stroke-linecap="round" />
<ellipse cx="1519.4" cy="1550.4" rx="12.2" ry="6.0" stroke="#111" stroke-width="1.5" fill="#fff"/>
<polygon points="1511.4,1549.4 1511.4,1542.9 1515.9,1539.6 1523.9,1539.8 1527.7,1543.4 1527.7,1549.9 1523.4,1552.9 1515.4,1552.9" stroke="#111" stroke-width="1.2" fill="#fff" stroke-linejoin="round"/>
<polygon points="1511.9,1543.2 1516.2,1540.0 1523.7,1540.2 1527.4,1543.6 1523.4,1546.9 1515.4,1546.8" stroke="#111" stroke-width="1.0" fill="#555" stroke-linejoin="round"/>
<line x1="1519.4" y1="1546.9" x2="1519.4" y2="1552.9" stroke="#111" stroke-width="0.8"/>
<line x1="1514.4" y1="1557.4" x2="1514.4" y2="1577.8" stroke="#111" stroke-width="1.3"/>
<line x1="1524.4" y1="1557.4" x2="1524.4" y2="1577.8" stroke="#111" stroke-width="1.3"/>
<path d="M1514.4,1576.8 Q1519.4,1579.8 1524.4,1576.8" stroke="#111" stroke-width="1.2" fill="none" stroke-linejoin="round" stroke-linecap="round" />
<path d="M1514.2,1577.8 L1513.2,1579.7 L1514.8,1581.6 L1513.2,1583.5 L1514.8,1585.4 L1513.2,1587.3 L1514.8,1589.2 L1513.2,1591.1 L1514.8,1593.0 L1513.2,1594.9 L1514.8,1596.8 L1513.2,1598.7 L1514.8,1600.6 L1513.2,1602.5 L1514.8,1604.4 L1513.2,1606.3 L1514.8,1608.2 L1513.2,1610.1 L1514.8,1612.0 L1513.2,1613.9 L1514.8,1615.8 L1514.3,1617.7 L1515.9,1619.6 L1515.4,1621.5 L1517.0,1623.4 L1516.5,1625.3 L1518.1,1627.2 L1519.4,1629.8 L1520.7,1627.2 L1522.3,1625.3 L1521.8,1623.4 L1523.4,1621.5 L1522.9,1619.6 L1524.5,1617.7 L1524.0,1615.8 L1525.6,1613.9 L1524.0,1612.0 L1525.6,1610.1 L1524.0,1608.2 L1525.6,1606.3 L1524.0,1604.4 L1525.6,1602.5 L1524.0,1600.6 L1525.6,1598.7 L1524.0,1596.8 L1525.6,1594.9 L1524.0,1593.0 L1525.6,1591.1 L1524.0,1589.2 L1525.6,1587.3 L1524.0,1585.4 L1525.6,1583.5 L1524.0,1581.6 L1525.6,1579.7 Z" stroke="#111" stroke-width="1.4" fill="#888" stroke-linejoin="round" stroke-linecap="round" />
<line x1="1514.5" y1="1581.2" x2="1524.3" y2="1578.6" stroke="#111" stroke-width="1.2"/>
<line x1="1514.5" y1="1585.0" x2="1524.3" y2="1582.4" stroke="#111" stroke-width="1.2"/>
<line x1="1514.5" y1="1588.8" x2="1524.3" y2="1586.2" stroke="#111" stroke-width="1.2"/>
<line x1="1514.5" y1="1592.6" x2="1524.3" y2="1590.0" stroke="#111" stroke-width="1.2"/>
<line x1="1514.5" y1="1596.4" x2="1524.3" y2="1593.8" stroke="#111" stroke-width="1.2"/>
<line x1="1514.5" y1="1600.2" x2="1524.3" y2="1597.6" stroke="#111" stroke-width="1.2"/>
<line x1="1514.5" y1="1604.0" x2="1524.3" y2="1601.4" stroke="#111" stroke-width="1.2"/>
<line x1="1514.5" y1="1607.8" x2="1524.3" y2="1605.2" stroke="#111" stroke-width="1.2"/>
<line x1="1514.5" y1="1611.6" x2="1524.3" y2="1609.0" stroke="#111" stroke-width="1.2"/>
<line x1="1514.5" y1="1615.4" x2="1524.3" y2="1612.8" stroke="#111" stroke-width="1.2"/>
<line x1="1515.6" y1="1619.2" x2="1523.2" y2="1616.6" stroke="#111" stroke-width="1.2"/>
<line x1="1516.7" y1="1623.0" x2="1522.1" y2="1620.4" stroke="#111" stroke-width="1.2"/>
<line x1="1517.8" y1="1626.8" x2="1521.0" y2="1624.2" stroke="#111" stroke-width="1.2"/>
<circle cx="1584.9" cy="1428.1" r="19.0" stroke="#111" stroke-width="1.5" fill="#fff"/>
<text x="1584.9" y="1438.6" font-size="29" font-weight="bold" text-anchor="middle" fill="#000" transform="translate(1584.9 0) scale(0.86 1) translate(-1584.9 0)">B</text>
<line x1="1584.9" y1="1447.1" x2="1584.9" y2="1475.9" stroke="#111" stroke-width="1.4"/>
<polygon points="1581.5,1475.9 1584.9,1495.4 1588.3,1475.9" stroke="#111" stroke-width="1.3" fill="#fff" stroke-linejoin="round"/>
<path d="M1573.7,1511.2 A12.2,6 0 0 0 1598.1,1511.2 L1598.1,1513.0 A12.2,6 0 0 1 1573.7,1513.0 Z" stroke="#111" stroke-width="1.2" fill="#fff" stroke-linejoin="round" stroke-linecap="round" />
<ellipse cx="1585.9" cy="1511.2" rx="12.2" ry="6.0" stroke="#111" stroke-width="1.5" fill="#fff"/>
<polygon points="1577.9,1510.2 1577.9,1503.7 1582.4,1500.4 1590.4,1500.6 1594.2,1504.2 1594.2,1510.7 1589.9,1513.7 1581.9,1513.7" stroke="#111" stroke-width="1.2" fill="#fff" stroke-linejoin="round"/>
<polygon points="1578.4,1504.0 1582.7,1500.8 1590.2,1501.0 1593.9,1504.4 1589.9,1507.7 1581.9,1507.6" stroke="#111" stroke-width="1.0" fill="#555" stroke-linejoin="round"/>
<line x1="1585.9" y1="1507.7" x2="1585.9" y2="1513.7" stroke="#111" stroke-width="0.8"/>
<line x1="1580.9" y1="1518.2" x2="1580.9" y2="1538.6" stroke="#111" stroke-width="1.3"/>
<line x1="1590.9" y1="1518.2" x2="1590.9" y2="1538.6" stroke="#111" stroke-width="1.3"/>
<path d="M1580.9,1537.6 Q1585.9,1540.6 1590.9,1537.6" stroke="#111" stroke-width="1.2" fill="none" stroke-linejoin="round" stroke-linecap="round" />
<path d="M1580.7,1538.6 L1579.7,1540.5 L1581.3,1542.4 L1579.7,1544.3 L1581.3,1546.2 L1579.7,1548.1 L1581.3,1550.0 L1579.7,1551.9 L1581.3,1553.8 L1579.7,1555.7 L1581.3,1557.6 L1579.7,1559.5 L1581.3,1561.4 L1579.7,1563.3 L1581.3,1565.2 L1579.7,1567.1 L1581.3,1569.0 L1579.7,1570.9 L1581.3,1572.8 L1579.7,1574.7 L1581.3,1576.6 L1580.8,1578.5 L1582.4,1580.4 L1581.9,1582.3 L1583.5,1584.2 L1583.0,1586.1 L1584.6,1588.0 L1585.9,1590.6 L1587.2,1588.0 L1588.8,1586.1 L1588.3,1584.2 L1589.9,1582.3 L1589.4,1580.4 L1591.0,1578.5 L1590.5,1576.6 L1592.1,1574.7 L1590.5,1572.8 L1592.1,1570.9 L1590.5,1569.0 L1592.1,1567.1 L1590.5,1565.2 L1592.1,1563.3 L1590.5,1561.4 L1592.1,1559.5 L1590.5,1557.6 L1592.1,1555.7 L1590.5,1553.8 L1592.1,1551.9 L1590.5,1550.0 L1592.1,1548.1 L1590.5,1546.2 L1592.1,1544.3 L1590.5,1542.4 L1592.1,1540.5 Z" stroke="#111" stroke-width="1.4" fill="#888" stroke-linejoin="round" stroke-linecap="round" />
<line x1="1581.0" y1="1542.0" x2="1590.8" y2="1539.4" stroke="#111" stroke-width="1.2"/>
<line x1="1581.0" y1="1545.8" x2="1590.8" y2="1543.2" stroke="#111" stroke-width="1.2"/>
<line x1="1581.0" y1="1549.6" x2="1590.8" y2="1547.0" stroke="#111" stroke-width="1.2"/>
<line x1="1581.0" y1="1553.4" x2="1590.8" y2="1550.8" stroke="#111" stroke-width="1.2"/>
<line x1="1581.0" y1="1557.2" x2="1590.8" y2="1554.6" stroke="#111" stroke-width="1.2"/>
<line x1="1581.0" y1="1561.0" x2="1590.8" y2="1558.4" stroke="#111" stroke-width="1.2"/>
<line x1="1581.0" y1="1564.8" x2="1590.8" y2="1562.2" stroke="#111" stroke-width="1.2"/>
<line x1="1581.0" y1="1568.6" x2="1590.8" y2="1566.0" stroke="#111" stroke-width="1.2"/>
<line x1="1581.0" y1="1572.4" x2="1590.8" y2="1569.8" stroke="#111" stroke-width="1.2"/>
<line x1="1581.0" y1="1576.2" x2="1590.8" y2="1573.6" stroke="#111" stroke-width="1.2"/>
<line x1="1582.1" y1="1580.0" x2="1589.7" y2="1577.4" stroke="#111" stroke-width="1.2"/>
<line x1="1583.2" y1="1583.8" x2="1588.6" y2="1581.2" stroke="#111" stroke-width="1.2"/>
<line x1="1584.3" y1="1587.6" x2="1587.5" y2="1585.0" stroke="#111" stroke-width="1.2"/>
<circle cx="1693.7" cy="1364.8" r="19.0" stroke="#111" stroke-width="1.5" fill="#fff"/>
<text x="1693.7" y="1375.3" font-size="29" font-weight="bold" text-anchor="middle" fill="#000" transform="translate(1693.7 0) scale(0.86 1) translate(-1693.7 0)">B</text>
<line x1="1693.7" y1="1383.8" x2="1693.7" y2="1412.6" stroke="#111" stroke-width="1.4"/>
<polygon points="1690.3,1412.6 1693.7,1432.1 1697.1,1412.6" stroke="#111" stroke-width="1.3" fill="#fff" stroke-linejoin="round"/>
<path d="M1682.5,1447.9 A12.2,6 0 0 0 1706.9,1447.9 L1706.9,1449.7 A12.2,6 0 0 1 1682.5,1449.7 Z" stroke="#111" stroke-width="1.2" fill="#fff" stroke-linejoin="round" stroke-linecap="round" />
<ellipse cx="1694.7" cy="1447.9" rx="12.2" ry="6.0" stroke="#111" stroke-width="1.5" fill="#fff"/>
<polygon points="1686.7,1446.9 1686.7,1440.4 1691.2,1437.1 1699.2,1437.3 1703.0,1440.9 1703.0,1447.4 1698.7,1450.4 1690.7,1450.4" stroke="#111" stroke-width="1.2" fill="#fff" stroke-linejoin="round"/>
<polygon points="1687.2,1440.7 1691.5,1437.5 1699.0,1437.7 1702.7,1441.1 1698.7,1444.4 1690.7,1444.3" stroke="#111" stroke-width="1.0" fill="#555" stroke-linejoin="round"/>
<line x1="1694.7" y1="1444.4" x2="1694.7" y2="1450.4" stroke="#111" stroke-width="0.8"/>
<line x1="1689.7" y1="1454.9" x2="1689.7" y2="1475.3" stroke="#111" stroke-width="1.3"/>
<line x1="1699.7" y1="1454.9" x2="1699.7" y2="1475.3" stroke="#111" stroke-width="1.3"/>
<path d="M1689.7,1474.3 Q1694.7,1477.3 1699.7,1474.3" stroke="#111" stroke-width="1.2" fill="none" stroke-linejoin="round" stroke-linecap="round" />
<path d="M1689.5,1475.3 L1688.5,1477.2 L1690.1,1479.1 L1688.5,1481.0 L1690.1,1482.9 L1688.5,1484.8 L1690.1,1486.7 L1688.5,1488.6 L1690.1,1490.5 L1688.5,1492.4 L1690.1,1494.3 L1688.5,1496.2 L1690.1,1498.1 L1688.5,1500.0 L1690.1,1501.9 L1688.5,1503.8 L1690.1,1505.7 L1688.5,1507.6 L1690.1,1509.5 L1688.5,1511.4 L1690.1,1513.3 L1689.6,1515.2 L1691.2,1517.1 L1690.7,1519.0 L1692.3,1520.9 L1691.8,1522.8 L1693.4,1524.7 L1694.7,1527.3 L1696.0,1524.7 L1697.6,1522.8 L1697.1,1520.9 L1698.7,1519.0 L1698.2,1517.1 L1699.8,1515.2 L1699.3,1513.3 L1700.9,1511.4 L1699.3,1509.5 L1700.9,1507.6 L1699.3,1505.7 L1700.9,1503.8 L1699.3,1501.9 L1700.9,1500.0 L1699.3,1498.1 L1700.9,1496.2 L1699.3,1494.3 L1700.9,1492.4 L1699.3,1490.5 L1700.9,1488.6 L1699.3,1486.7 L1700.9,1484.8 L1699.3,1482.9 L1700.9,1481.0 L1699.3,1479.1 L1700.9,1477.2 Z" stroke="#111" stroke-width="1.4" fill="#888" stroke-linejoin="round" stroke-linecap="round" />
<line x1="1689.8" y1="1478.7" x2="1699.6" y2="1476.1" stroke="#111" stroke-width="1.2"/>
<line x1="1689.8" y1="1482.5" x2="1699.6" y2="1479.9" stroke="#111" stroke-width="1.2"/>
<line x1="1689.8" y1="1486.3" x2="1699.6" y2="1483.7" stroke="#111" stroke-width="1.2"/>
<line x1="1689.8" y1="1490.1" x2="1699.6" y2="1487.5" stroke="#111" stroke-width="1.2"/>
<line x1="1689.8" y1="1493.9" x2="1699.6" y2="1491.3" stroke="#111" stroke-width="1.2"/>
<line x1="1689.8" y1="1497.7" x2="1699.6" y2="1495.1" stroke="#111" stroke-width="1.2"/>
<line x1="1689.8" y1="1501.5" x2="1699.6" y2="1498.9" stroke="#111" stroke-width="1.2"/>
<line x1="1689.8" y1="1505.3" x2="1699.6" y2="1502.7" stroke="#111" stroke-width="1.2"/>
<line x1="1689.8" y1="1509.1" x2="1699.6" y2="1506.5" stroke="#111" stroke-width="1.2"/>
<line x1="1689.8" y1="1512.9" x2="1699.6" y2="1510.3" stroke="#111" stroke-width="1.2"/>
<line x1="1690.9" y1="1516.7" x2="1698.5" y2="1514.1" stroke="#111" stroke-width="1.2"/>
<line x1="1692.0" y1="1520.5" x2="1697.4" y2="1517.9" stroke="#111" stroke-width="1.2"/>
<line x1="1693.1" y1="1524.3" x2="1696.3" y2="1521.7" stroke="#111" stroke-width="1.2"/>
<circle cx="1911.2" cy="1240.3" r="19.0" stroke="#111" stroke-width="1.5" fill="#fff"/>
<text x="1911.2" y="1250.8" font-size="29" font-weight="bold" text-anchor="middle" fill="#000" transform="translate(1911.2 0) scale(0.86 1) translate(-1911.2 0)">B</text>
<line x1="1911.2" y1="1259.3" x2="1911.2" y2="1288.1" stroke="#111" stroke-width="1.4"/>
<polygon points="1907.8,1288.1 1911.2,1307.6 1914.6,1288.1" stroke="#111" stroke-width="1.3" fill="#fff" stroke-linejoin="round"/>
<path d="M1900.0,1323.4 A12.2,6 0 0 0 1924.4,1323.4 L1924.4,1325.2 A12.2,6 0 0 1 1900.0,1325.2 Z" stroke="#111" stroke-width="1.2" fill="#fff" stroke-linejoin="round" stroke-linecap="round" />
<ellipse cx="1912.2" cy="1323.4" rx="12.2" ry="6.0" stroke="#111" stroke-width="1.5" fill="#fff"/>
<polygon points="1904.2,1322.4 1904.2,1315.9 1908.7,1312.6 1916.7,1312.8 1920.5,1316.4 1920.5,1322.9 1916.2,1325.9 1908.2,1325.9" stroke="#111" stroke-width="1.2" fill="#fff" stroke-linejoin="round"/>
<polygon points="1904.7,1316.2 1909.0,1313.0 1916.5,1313.2 1920.2,1316.6 1916.2,1319.9 1908.2,1319.8" stroke="#111" stroke-width="1.0" fill="#555" stroke-linejoin="round"/>
<line x1="1912.2" y1="1319.9" x2="1912.2" y2="1325.9" stroke="#111" stroke-width="0.8"/>
<line x1="1907.2" y1="1330.4" x2="1907.2" y2="1350.8" stroke="#111" stroke-width="1.3"/>
<line x1="1917.2" y1="1330.4" x2="1917.2" y2="1350.8" stroke="#111" stroke-width="1.3"/>
<path d="M1907.2,1349.8 Q1912.2,1352.8 1917.2,1349.8" stroke="#111" stroke-width="1.2" fill="none" stroke-linejoin="round" stroke-linecap="round" />
<path d="M1907.0,1350.8 L1906.0,1352.7 L1907.6,1354.6 L1906.0,1356.5 L1907.6,1358.4 L1906.0,1360.3 L1907.6,1362.2 L1906.0,1364.1 L1907.6,1366.0 L1906.0,1367.9 L1907.6,1369.8 L1906.0,1371.7 L1907.6,1373.6 L1906.0,1375.5 L1907.6,1377.4 L1906.0,1379.3 L1907.6,1381.2 L1906.0,1383.1 L1907.6,1385.0 L1906.0,1386.9 L1907.6,1388.8 L1907.1,1390.7 L1908.7,1392.6 L1908.2,1394.5 L1909.8,1396.4 L1909.3,1398.3 L1910.9,1400.2 L1912.2,1402.8 L1913.5,1400.2 L1915.1,1398.3 L1914.6,1396.4 L1916.2,1394.5 L1915.7,1392.6 L1917.3,1390.7 L1916.8,1388.8 L1918.4,1386.9 L1916.8,1385.0 L1918.4,1383.1 L1916.8,1381.2 L1918.4,1379.3 L1916.8,1377.4 L1918.4,1375.5 L1916.8,1373.6 L1918.4,1371.7 L1916.8,1369.8 L1918.4,1367.9 L1916.8,1366.0 L1918.4,1364.1 L1916.8,1362.2 L1918.4,1360.3 L1916.8,1358.4 L1918.4,1356.5 L1916.8,1354.6 L1918.4,1352.7 Z" stroke="#111" stroke-width="1.4" fill="#888" stroke-linejoin="round" stroke-linecap="round" />
<line x1="1907.3" y1="1354.2" x2="1917.1" y2="1351.6" stroke="#111" stroke-width="1.2"/>
<line x1="1907.3" y1="1358.0" x2="1917.1" y2="1355.4" stroke="#111" stroke-width="1.2"/>
<line x1="1907.3" y1="1361.8" x2="1917.1" y2="1359.2" stroke="#111" stroke-width="1.2"/>
<line x1="1907.3" y1="1365.6" x2="1917.1" y2="1363.0" stroke="#111" stroke-width="1.2"/>
<line x1="1907.3" y1="1369.4" x2="1917.1" y2="1366.8" stroke="#111" stroke-width="1.2"/>
<line x1="1907.3" y1="1373.2" x2="1917.1" y2="1370.6" stroke="#111" stroke-width="1.2"/>
<line x1="1907.3" y1="1377.0" x2="1917.1" y2="1374.4" stroke="#111" stroke-width="1.2"/>
<line x1="1907.3" y1="1380.8" x2="1917.1" y2="1378.2" stroke="#111" stroke-width="1.2"/>
<line x1="1907.3" y1="1384.6" x2="1917.1" y2="1382.0" stroke="#111" stroke-width="1.2"/>
<line x1="1907.3" y1="1388.4" x2="1917.1" y2="1385.8" stroke="#111" stroke-width="1.2"/>
<line x1="1908.4" y1="1392.2" x2="1916.0" y2="1389.6" stroke="#111" stroke-width="1.2"/>
<line x1="1909.5" y1="1396.0" x2="1914.9" y2="1393.4" stroke="#111" stroke-width="1.2"/>
<line x1="1910.6" y1="1399.8" x2="1913.8" y2="1397.2" stroke="#111" stroke-width="1.2"/>
<circle cx="2019.2" cy="1176.9" r="19.0" stroke="#111" stroke-width="1.5" fill="#fff"/>
<text x="2019.2" y="1187.4" font-size="29" font-weight="bold" text-anchor="middle" fill="#000" transform="translate(2019.2 0) scale(0.86 1) translate(-2019.2 0)">B</text>
<line x1="2019.2" y1="1195.9" x2="2019.2" y2="1224.7" stroke="#111" stroke-width="1.4"/>
<polygon points="2015.8,1224.7 2019.2,1244.2 2022.6,1224.7" stroke="#111" stroke-width="1.3" fill="#fff" stroke-linejoin="round"/>
<path d="M2008.0,1260.0 A12.2,6 0 0 0 2032.4,1260.0 L2032.4,1261.8 A12.2,6 0 0 1 2008.0,1261.8 Z" stroke="#111" stroke-width="1.2" fill="#fff" stroke-linejoin="round" stroke-linecap="round" />
<ellipse cx="2020.2" cy="1260.0" rx="12.2" ry="6.0" stroke="#111" stroke-width="1.5" fill="#fff"/>
<polygon points="2012.2,1259.0 2012.2,1252.5 2016.7,1249.2 2024.7,1249.4 2028.5,1253.0 2028.5,1259.5 2024.2,1262.5 2016.2,1262.5" stroke="#111" stroke-width="1.2" fill="#fff" stroke-linejoin="round"/>
<polygon points="2012.7,1252.8 2017.0,1249.6 2024.5,1249.8 2028.2,1253.2 2024.2,1256.5 2016.2,1256.4" stroke="#111" stroke-width="1.0" fill="#555" stroke-linejoin="round"/>
<line x1="2020.2" y1="1256.5" x2="2020.2" y2="1262.5" stroke="#111" stroke-width="0.8"/>
<line x1="2015.2" y1="1267.0" x2="2015.2" y2="1287.4" stroke="#111" stroke-width="1.3"/>
<line x1="2025.2" y1="1267.0" x2="2025.2" y2="1287.4" stroke="#111" stroke-width="1.3"/>
<path d="M2015.2,1286.4 Q2020.2,1289.4 2025.2,1286.4" stroke="#111" stroke-width="1.2" fill="none" stroke-linejoin="round" stroke-linecap="round" />
<path d="M2015.0,1287.4 L2014.0,1289.3 L2015.6,1291.2 L2014.0,1293.1 L2015.6,1295.0 L2014.0,1296.9 L2015.6,1298.8 L2014.0,1300.7 L2015.6,1302.6 L2014.0,1304.5 L2015.6,1306.4 L2014.0,1308.3 L2015.6,1310.2 L2014.0,1312.1 L2015.6,1314.0 L2014.0,1315.9 L2015.6,1317.8 L2014.0,1319.7 L2015.6,1321.6 L2014.0,1323.5 L2015.6,1325.4 L2015.1,1327.3 L2016.7,1329.2 L2016.2,1331.1 L2017.8,1333.0 L2017.3,1334.9 L2018.9,1336.8 L2020.2,1339.4 L2021.5,1336.8 L2023.1,1334.9 L2022.6,1333.0 L2024.2,1331.1 L2023.7,1329.2 L2025.3,1327.3 L2024.8,1325.4 L2026.4,1323.5 L2024.8,1321.6 L2026.4,1319.7 L2024.8,1317.8 L2026.4,1315.9 L2024.8,1314.0 L2026.4,1312.1 L2024.8,1310.2 L2026.4,1308.3 L2024.8,1306.4 L2026.4,1304.5 L2024.8,1302.6 L2026.4,1300.7 L2024.8,1298.8 L2026.4,1296.9 L2024.8,1295.0 L2026.4,1293.1 L2024.8,1291.2 L2026.4,1289.3 Z" stroke="#111" stroke-width="1.4" fill="#888" stroke-linejoin="round" stroke-linecap="round" />
<line x1="2015.3" y1="1290.8" x2="2025.1" y2="1288.2" stroke="#111" stroke-width="1.2"/>
<line x1="2015.3" y1="1294.6" x2="2025.1" y2="1292.0" stroke="#111" stroke-width="1.2"/>
<line x1="2015.3" y1="1298.4" x2="2025.1" y2="1295.8" stroke="#111" stroke-width="1.2"/>
<line x1="2015.3" y1="1302.2" x2="2025.1" y2="1299.6" stroke="#111" stroke-width="1.2"/>
<line x1="2015.3" y1="1306.0" x2="2025.1" y2="1303.4" stroke="#111" stroke-width="1.2"/>
<line x1="2015.3" y1="1309.8" x2="2025.1" y2="1307.2" stroke="#111" stroke-width="1.2"/>
<line x1="2015.3" y1="1313.6" x2="2025.1" y2="1311.0" stroke="#111" stroke-width="1.2"/>
<line x1="2015.3" y1="1317.4" x2="2025.1" y2="1314.8" stroke="#111" stroke-width="1.2"/>
<line x1="2015.3" y1="1321.2" x2="2025.1" y2="1318.6" stroke="#111" stroke-width="1.2"/>
<line x1="2015.3" y1="1325.0" x2="2025.1" y2="1322.4" stroke="#111" stroke-width="1.2"/>
<line x1="2016.4" y1="1328.8" x2="2024.0" y2="1326.2" stroke="#111" stroke-width="1.2"/>
<line x1="2017.5" y1="1332.6" x2="2022.9" y2="1330.0" stroke="#111" stroke-width="1.2"/>
<line x1="2018.6" y1="1336.4" x2="2021.8" y2="1333.8" stroke="#111" stroke-width="1.2"/>
<circle cx="2088.0" cy="1137.1" r="19.0" stroke="#111" stroke-width="1.5" fill="#fff"/>
<text x="2088.0" y="1147.6" font-size="29" font-weight="bold" text-anchor="middle" fill="#000" transform="translate(2088.0 0) scale(0.86 1) translate(-2088.0 0)">B</text>
<line x1="2088.0" y1="1156.1" x2="2088.0" y2="1184.9" stroke="#111" stroke-width="1.4"/>
<polygon points="2084.6,1184.9 2088.0,1204.4 2091.4,1184.9" stroke="#111" stroke-width="1.3" fill="#fff" stroke-linejoin="round"/>
<path d="M2076.8,1220.2 A12.2,6 0 0 0 2101.2,1220.2 L2101.2,1222.0 A12.2,6 0 0 1 2076.8,1222.0 Z" stroke="#111" stroke-width="1.2" fill="#fff" stroke-linejoin="round" stroke-linecap="round" />
<ellipse cx="2089.0" cy="1220.2" rx="12.2" ry="6.0" stroke="#111" stroke-width="1.5" fill="#fff"/>
<polygon points="2081.0,1219.2 2081.0,1212.7 2085.5,1209.4 2093.5,1209.6 2097.3,1213.2 2097.3,1219.7 2093.0,1222.7 2085.0,1222.7" stroke="#111" stroke-width="1.2" fill="#fff" stroke-linejoin="round"/>
<polygon points="2081.5,1213.0 2085.8,1209.8 2093.3,1210.0 2097.0,1213.4 2093.0,1216.7 2085.0,1216.6" stroke="#111" stroke-width="1.0" fill="#555" stroke-linejoin="round"/>
<line x1="2089.0" y1="1216.7" x2="2089.0" y2="1222.7" stroke="#111" stroke-width="0.8"/>
<line x1="2084.0" y1="1227.2" x2="2084.0" y2="1247.6" stroke="#111" stroke-width="1.3"/>
<line x1="2094.0" y1="1227.2" x2="2094.0" y2="1247.6" stroke="#111" stroke-width="1.3"/>
<path d="M2084.0,1246.6 Q2089.0,1249.6 2094.0,1246.6" stroke="#111" stroke-width="1.2" fill="none" stroke-linejoin="round" stroke-linecap="round" />
<path d="M2083.8,1247.6 L2082.8,1249.5 L2084.4,1251.4 L2082.8,1253.3 L2084.4,1255.2 L2082.8,1257.1 L2084.4,1259.0 L2082.8,1260.9 L2084.4,1262.8 L2082.8,1264.7 L2084.4,1266.6 L2082.8,1268.5 L2084.4,1270.4 L2082.8,1272.3 L2084.4,1274.2 L2082.8,1276.1 L2084.4,1278.0 L2082.8,1279.9 L2084.4,1281.8 L2082.8,1283.7 L2084.4,1285.6 L2083.9,1287.5 L2085.5,1289.4 L2085.0,1291.3 L2086.6,1293.2 L2086.1,1295.1 L2087.7,1297.0 L2089.0,1299.6 L2090.3,1297.0 L2091.9,1295.1 L2091.4,1293.2 L2093.0,1291.3 L2092.5,1289.4 L2094.1,1287.5 L2093.6,1285.6 L2095.2,1283.7 L2093.6,1281.8 L2095.2,1279.9 L2093.6,1278.0 L2095.2,1276.1 L2093.6,1274.2 L2095.2,1272.3 L2093.6,1270.4 L2095.2,1268.5 L2093.6,1266.6 L2095.2,1264.7 L2093.6,1262.8 L2095.2,1260.9 L2093.6,1259.0 L2095.2,1257.1 L2093.6,1255.2 L2095.2,1253.3 L2093.6,1251.4 L2095.2,1249.5 Z" stroke="#111" stroke-width="1.4" fill="#888" stroke-linejoin="round" stroke-linecap="round" />
<line x1="2084.1" y1="1251.0" x2="2093.9" y2="1248.4" stroke="#111" stroke-width="1.2"/>
<line x1="2084.1" y1="1254.8" x2="2093.9" y2="1252.2" stroke="#111" stroke-width="1.2"/>
<line x1="2084.1" y1="1258.6" x2="2093.9" y2="1256.0" stroke="#111" stroke-width="1.2"/>
<line x1="2084.1" y1="1262.4" x2="2093.9" y2="1259.8" stroke="#111" stroke-width="1.2"/>
<line x1="2084.1" y1="1266.2" x2="2093.9" y2="1263.6" stroke="#111" stroke-width="1.2"/>
<line x1="2084.1" y1="1270.0" x2="2093.9" y2="1267.4" stroke="#111" stroke-width="1.2"/>
<line x1="2084.1" y1="1273.8" x2="2093.9" y2="1271.2" stroke="#111" stroke-width="1.2"/>
<line x1="2084.1" y1="1277.6" x2="2093.9" y2="1275.0" stroke="#111" stroke-width="1.2"/>
<line x1="2084.1" y1="1281.4" x2="2093.9" y2="1278.8" stroke="#111" stroke-width="1.2"/>
<line x1="2084.1" y1="1285.2" x2="2093.9" y2="1282.6" stroke="#111" stroke-width="1.2"/>
<line x1="2085.2" y1="1289.0" x2="2092.8" y2="1286.4" stroke="#111" stroke-width="1.2"/>
<line x1="2086.3" y1="1292.8" x2="2091.7" y2="1290.2" stroke="#111" stroke-width="1.2"/>
<line x1="2087.4" y1="1296.6" x2="2090.6" y2="1294.0" stroke="#111" stroke-width="1.2"/>
<path d="M2079.3,1502.4 L2079.9,1570.8 Q2088.0,1576.8 2096.1,1570.8 L2096.7,1502.4" stroke="#111" stroke-width="1.6" fill="#fff" stroke-linejoin="round" stroke-linecap="round" />
<path d="M2079.6,1532.8 L2079.9,1570.8 Q2088.0,1576.8 2096.1,1570.8 L2096.4,1532.8 Z" stroke="#111" stroke-width="1.0" fill="#3c3c3c" stroke-linejoin="round" stroke-linecap="round" />
<ellipse cx="2086.5" cy="1536.8" rx="3.0" ry="2.0" stroke="#e0e0e0" stroke-width="0.9" fill="none"/>
<ellipse cx="2086.5" cy="1543.3" rx="3.0" ry="2.0" stroke="#e0e0e0" stroke-width="0.9" fill="none"/>
<ellipse cx="2086.5" cy="1549.8" rx="3.0" ry="2.0" stroke="#e0e0e0" stroke-width="0.9" fill="none"/>
<ellipse cx="2086.5" cy="1556.3" rx="3.0" ry="2.0" stroke="#e0e0e0" stroke-width="0.9" fill="none"/>
<ellipse cx="2086.5" cy="1562.8" rx="3.0" ry="2.0" stroke="#e0e0e0" stroke-width="0.9" fill="none"/>
<ellipse cx="2086.5" cy="1569.3" rx="3.0" ry="2.0" stroke="#e0e0e0" stroke-width="0.9" fill="none"/>
<ellipse cx="2085.0" cy="1509.4" rx="2.6" ry="1.7" stroke="#111" stroke-width="0.9" fill="none"/>
<ellipse cx="2080.8" cy="1512.2" rx="1.0" ry="1.7" stroke="#111" stroke-width="0.9" fill="none"/>
<ellipse cx="2095.2" cy="1512.2" rx="1.0" ry="1.7" stroke="#111" stroke-width="0.9" fill="none"/>
<ellipse cx="2090.5" cy="1515.0" rx="2.6" ry="1.7" stroke="#111" stroke-width="0.9" fill="none"/>
<ellipse cx="2080.8" cy="1517.8" rx="1.0" ry="1.7" stroke="#111" stroke-width="0.9" fill="none"/>
<ellipse cx="2095.2" cy="1517.8" rx="1.0" ry="1.7" stroke="#111" stroke-width="0.9" fill="none"/>
<ellipse cx="2085.0" cy="1520.6" rx="2.6" ry="1.7" stroke="#111" stroke-width="0.9" fill="none"/>
<ellipse cx="2080.8" cy="1523.4" rx="1.0" ry="1.7" stroke="#111" stroke-width="0.9" fill="none"/>
<ellipse cx="2095.2" cy="1523.4" rx="1.0" ry="1.7" stroke="#111" stroke-width="0.9" fill="none"/>
<ellipse cx="2090.5" cy="1526.2" rx="2.6" ry="1.7" stroke="#111" stroke-width="0.9" fill="none"/>
<ellipse cx="2080.8" cy="1529.0" rx="1.0" ry="1.7" stroke="#111" stroke-width="0.9" fill="none"/>
<ellipse cx="2095.2" cy="1529.0" rx="1.0" ry="1.7" stroke="#111" stroke-width="0.9" fill="none"/>
<ellipse cx="2085.0" cy="1531.8" rx="2.6" ry="1.7" stroke="#111" stroke-width="0.9" fill="none"/>
<ellipse cx="2080.8" cy="1534.6" rx="1.0" ry="1.7" stroke="#111" stroke-width="0.9" fill="none"/>
<ellipse cx="2095.2" cy="1534.6" rx="1.0" ry="1.7" stroke="#111" stroke-width="0.9" fill="none"/>
<ellipse cx="2088.0" cy="1502.4" rx="9.2" ry="5.4" stroke="#111" stroke-width="1.7" fill="#fff"/>
<ellipse cx="2088.0" cy="1502.7" rx="5.5" ry="3.0" stroke="#111" stroke-width="1.8" fill="none"/>
<circle cx="2174.7" cy="1536.9" r="19.0" stroke="#111" stroke-width="1.5" fill="#fff"/>
<text x="2174.7" y="1547.4" font-size="29" font-weight="bold" text-anchor="middle" fill="#000" transform="translate(2174.7 0) scale(0.86 1) translate(-2174.7 0)">C</text>
<line x1="2155.7" y1="1536.2" x2="2126.5" y2="1536.2" stroke="#111" stroke-width="1.4"/>
<polygon points="2126.5,1532.6 2107.0,1536.2 2126.5,1539.8" stroke="#111" stroke-width="1.3" fill="#fff" stroke-linejoin="round"/>
<path d="M2012.3,1541.6 L2012.9,1610.1 Q2021.0,1616.1 2029.1,1610.1 L2029.7,1541.6" stroke="#111" stroke-width="1.6" fill="#fff" stroke-linejoin="round" stroke-linecap="round" />
<path d="M2012.6,1572.0 L2012.9,1610.1 Q2021.0,1616.1 2029.1,1610.1 L2029.4,1572.0 Z" stroke="#111" stroke-width="1.0" fill="#3c3c3c" stroke-linejoin="round" stroke-linecap="round" />
<ellipse cx="2019.5" cy="1576.0" rx="3.0" ry="2.0" stroke="#e0e0e0" stroke-width="0.9" fill="none"/>
<ellipse cx="2019.5" cy="1582.5" rx="3.0" ry="2.0" stroke="#e0e0e0" stroke-width="0.9" fill="none"/>
<ellipse cx="2019.5" cy="1589.0" rx="3.0" ry="2.0" stroke="#e0e0e0" stroke-width="0.9" fill="none"/>
<ellipse cx="2019.5" cy="1595.5" rx="3.0" ry="2.0" stroke="#e0e0e0" stroke-width="0.9" fill="none"/>
<ellipse cx="2019.5" cy="1602.0" rx="3.0" ry="2.0" stroke="#e0e0e0" stroke-width="0.9" fill="none"/>
<ellipse cx="2019.5" cy="1608.5" rx="3.0" ry="2.0" stroke="#e0e0e0" stroke-width="0.9" fill="none"/>
<ellipse cx="2018.0" cy="1548.6" rx="2.6" ry="1.7" stroke="#111" stroke-width="0.9" fill="none"/>
<ellipse cx="2013.8" cy="1551.4" rx="1.0" ry="1.7" stroke="#111" stroke-width="0.9" fill="none"/>
<ellipse cx="2028.2" cy="1551.4" rx="1.0" ry="1.7" stroke="#111" stroke-width="0.9" fill="none"/>
<ellipse cx="2023.5" cy="1554.2" rx="2.6" ry="1.7" stroke="#111" stroke-width="0.9" fill="none"/>
<ellipse cx="2013.8" cy="1557.0" rx="1.0" ry="1.7" stroke="#111" stroke-width="0.9" fill="none"/>
<ellipse cx="2028.2" cy="1557.0" rx="1.0" ry="1.7" stroke="#111" stroke-width="0.9" fill="none"/>
<ellipse cx="2018.0" cy="1559.8" rx="2.6" ry="1.7" stroke="#111" stroke-width="0.9" fill="none"/>
<ellipse cx="2013.8" cy="1562.6" rx="1.0" ry="1.7" stroke="#111" stroke-width="0.9" fill="none"/>
<ellipse cx="2028.2" cy="1562.6" rx="1.0" ry="1.7" stroke="#111" stroke-width="0.9" fill="none"/>
<ellipse cx="2023.5" cy="1565.4" rx="2.6" ry="1.7" stroke="#111" stroke-width="0.9" fill="none"/>
<ellipse cx="2013.8" cy="1568.2" rx="1.0" ry="1.7" stroke="#111" stroke-width="0.9" fill="none"/>
<ellipse cx="2028.2" cy="1568.2" rx="1.0" ry="1.7" stroke="#111" stroke-width="0.9" fill="none"/>
<ellipse cx="2018.0" cy="1571.0" rx="2.6" ry="1.7" stroke="#111" stroke-width="0.9" fill="none"/>
<ellipse cx="2013.8" cy="1573.8" rx="1.0" ry="1.7" stroke="#111" stroke-width="0.9" fill="none"/>
<ellipse cx="2028.2" cy="1573.8" rx="1.0" ry="1.7" stroke="#111" stroke-width="0.9" fill="none"/>
<ellipse cx="2021.0" cy="1541.6" rx="9.2" ry="5.4" stroke="#111" stroke-width="1.7" fill="#fff"/>
<ellipse cx="2021.0" cy="1541.9" rx="5.5" ry="3.0" stroke="#111" stroke-width="1.8" fill="none"/>
<circle cx="2106.3" cy="1595.1" r="19.0" stroke="#111" stroke-width="1.5" fill="#fff"/>
<text x="2106.3" y="1605.6" font-size="29" font-weight="bold" text-anchor="middle" fill="#000" transform="translate(2106.3 0) scale(0.86 1) translate(-2106.3 0)">C</text>
<line x1="2087.3" y1="1595.1" x2="2058.8" y2="1595.1" stroke="#111" stroke-width="1.4"/>
<polygon points="2058.8,1591.5 2039.3,1595.1 2058.8,1598.7" stroke="#111" stroke-width="1.3" fill="#fff" stroke-linejoin="round"/>
<path d="M1903.8,1604.4 L1904.4,1673.6 Q1912.5,1679.6 1920.6,1673.6 L1921.2,1604.4" stroke="#111" stroke-width="1.6" fill="#fff" stroke-linejoin="round" stroke-linecap="round" />
<path d="M1904.1,1635.1 L1904.4,1673.6 Q1912.5,1679.6 1920.6,1673.6 L1920.9,1635.1 Z" stroke="#111" stroke-width="1.0" fill="#3c3c3c" stroke-linejoin="round" stroke-linecap="round" />
<ellipse cx="1911.0" cy="1639.1" rx="3.0" ry="2.0" stroke="#e0e0e0" stroke-width="0.9" fill="none"/>
<ellipse cx="1911.0" cy="1645.6" rx="3.0" ry="2.0" stroke="#e0e0e0" stroke-width="0.9" fill="none"/>
<ellipse cx="1911.0" cy="1652.1" rx="3.0" ry="2.0" stroke="#e0e0e0" stroke-width="0.9" fill="none"/>
<ellipse cx="1911.0" cy="1658.6" rx="3.0" ry="2.0" stroke="#e0e0e0" stroke-width="0.9" fill="none"/>
<ellipse cx="1911.0" cy="1665.1" rx="3.0" ry="2.0" stroke="#e0e0e0" stroke-width="0.9" fill="none"/>
<ellipse cx="1911.0" cy="1671.6" rx="3.0" ry="2.0" stroke="#e0e0e0" stroke-width="0.9" fill="none"/>
<ellipse cx="1909.5" cy="1611.4" rx="2.6" ry="1.7" stroke="#111" stroke-width="0.9" fill="none"/>
<ellipse cx="1905.3" cy="1614.2" rx="1.0" ry="1.7" stroke="#111" stroke-width="0.9" fill="none"/>
<ellipse cx="1919.7" cy="1614.2" rx="1.0" ry="1.7" stroke="#111" stroke-width="0.9" fill="none"/>
<ellipse cx="1915.0" cy="1617.0" rx="2.6" ry="1.7" stroke="#111" stroke-width="0.9" fill="none"/>
<ellipse cx="1905.3" cy="1619.8" rx="1.0" ry="1.7" stroke="#111" stroke-width="0.9" fill="none"/>
<ellipse cx="1919.7" cy="1619.8" rx="1.0" ry="1.7" stroke="#111" stroke-width="0.9" fill="none"/>
<ellipse cx="1909.5" cy="1622.6" rx="2.6" ry="1.7" stroke="#111" stroke-width="0.9" fill="none"/>
<ellipse cx="1905.3" cy="1625.4" rx="1.0" ry="1.7" stroke="#111" stroke-width="0.9" fill="none"/>
<ellipse cx="1919.7" cy="1625.4" rx="1.0" ry="1.7" stroke="#111" stroke-width="0.9" fill="none"/>
<ellipse cx="1915.0" cy="1628.2" rx="2.6" ry="1.7" stroke="#111" stroke-width="0.9" fill="none"/>
<ellipse cx="1905.3" cy="1631.0" rx="1.0" ry="1.7" stroke="#111" stroke-width="0.9" fill="none"/>
<ellipse cx="1919.7" cy="1631.0" rx="1.0" ry="1.7" stroke="#111" stroke-width="0.9" fill="none"/>
<ellipse cx="1909.5" cy="1633.8" rx="2.6" ry="1.7" stroke="#111" stroke-width="0.9" fill="none"/>
<ellipse cx="1905.3" cy="1636.6" rx="1.0" ry="1.7" stroke="#111" stroke-width="0.9" fill="none"/>
<ellipse cx="1919.7" cy="1636.6" rx="1.0" ry="1.7" stroke="#111" stroke-width="0.9" fill="none"/>
<ellipse cx="1912.5" cy="1604.4" rx="9.2" ry="5.4" stroke="#111" stroke-width="1.7" fill="#fff"/>
<ellipse cx="1912.5" cy="1604.7" rx="5.5" ry="3.0" stroke="#111" stroke-width="1.8" fill="none"/>
<circle cx="1994.2" cy="1656.1" r="19.0" stroke="#111" stroke-width="1.5" fill="#fff"/>
<text x="1994.2" y="1666.6" font-size="29" font-weight="bold" text-anchor="middle" fill="#000" transform="translate(1994.2 0) scale(0.86 1) translate(-1994.2 0)">C</text>
<line x1="1975.2" y1="1655.4" x2="1946.5" y2="1655.4" stroke="#111" stroke-width="1.4"/>
<polygon points="1946.5,1651.8 1927.0,1655.4 1946.5,1659.0" stroke="#111" stroke-width="1.3" fill="#fff" stroke-linejoin="round"/>
<path d="M1686.5,1729.6 L1687.1,1797.5 Q1695.2,1803.5 1703.3,1797.5 L1703.9,1729.6" stroke="#111" stroke-width="1.6" fill="#fff" stroke-linejoin="round" stroke-linecap="round" />
<path d="M1686.8,1759.8 L1687.1,1797.5 Q1695.2,1803.5 1703.3,1797.5 L1703.6,1759.8 Z" stroke="#111" stroke-width="1.0" fill="#3c3c3c" stroke-linejoin="round" stroke-linecap="round" />
<ellipse cx="1693.7" cy="1763.8" rx="3.0" ry="2.0" stroke="#e0e0e0" stroke-width="0.9" fill="none"/>
<ellipse cx="1693.7" cy="1770.3" rx="3.0" ry="2.0" stroke="#e0e0e0" stroke-width="0.9" fill="none"/>
<ellipse cx="1693.7" cy="1776.8" rx="3.0" ry="2.0" stroke="#e0e0e0" stroke-width="0.9" fill="none"/>
<ellipse cx="1693.7" cy="1783.3" rx="3.0" ry="2.0" stroke="#e0e0e0" stroke-width="0.9" fill="none"/>
<ellipse cx="1693.7" cy="1789.8" rx="3.0" ry="2.0" stroke="#e0e0e0" stroke-width="0.9" fill="none"/>
<ellipse cx="1693.7" cy="1796.3" rx="3.0" ry="2.0" stroke="#e0e0e0" stroke-width="0.9" fill="none"/>
<ellipse cx="1692.2" cy="1736.6" rx="2.6" ry="1.7" stroke="#111" stroke-width="0.9" fill="none"/>
<ellipse cx="1688.0" cy="1739.4" rx="1.0" ry="1.7" stroke="#111" stroke-width="0.9" fill="none"/>
<ellipse cx="1702.4" cy="1739.4" rx="1.0" ry="1.7" stroke="#111" stroke-width="0.9" fill="none"/>
<ellipse cx="1697.7" cy="1742.2" rx="2.6" ry="1.7" stroke="#111" stroke-width="0.9" fill="none"/>
<ellipse cx="1688.0" cy="1745.0" rx="1.0" ry="1.7" stroke="#111" stroke-width="0.9" fill="none"/>
<ellipse cx="1702.4" cy="1745.0" rx="1.0" ry="1.7" stroke="#111" stroke-width="0.9" fill="none"/>
<ellipse cx="1692.2" cy="1747.8" rx="2.6" ry="1.7" stroke="#111" stroke-width="0.9" fill="none"/>
<ellipse cx="1688.0" cy="1750.6" rx="1.0" ry="1.7" stroke="#111" stroke-width="0.9" fill="none"/>
<ellipse cx="1702.4" cy="1750.6" rx="1.0" ry="1.7" stroke="#111" stroke-width="0.9" fill="none"/>
<ellipse cx="1697.7" cy="1753.4" rx="2.6" ry="1.7" stroke="#111" stroke-width="0.9" fill="none"/>
<ellipse cx="1688.0" cy="1756.2" rx="1.0" ry="1.7" stroke="#111" stroke-width="0.9" fill="none"/>
<ellipse cx="1702.4" cy="1756.2" rx="1.0" ry="1.7" stroke="#111" stroke-width="0.9" fill="none"/>
<ellipse cx="1692.2" cy="1759.0" rx="2.6" ry="1.7" stroke="#111" stroke-width="0.9" fill="none"/>
<ellipse cx="1688.0" cy="1761.8" rx="1.0" ry="1.7" stroke="#111" stroke-width="0.9" fill="none"/>
<ellipse cx="1702.4" cy="1761.8" rx="1.0" ry="1.7" stroke="#111" stroke-width="0.9" fill="none"/>
<ellipse cx="1695.2" cy="1729.6" rx="9.2" ry="5.4" stroke="#111" stroke-width="1.7" fill="#fff"/>
<ellipse cx="1695.2" cy="1729.9" rx="5.5" ry="3.0" stroke="#111" stroke-width="1.8" fill="none"/>
<circle cx="1778.1" cy="1780.8" r="19.0" stroke="#111" stroke-width="1.5" fill="#fff"/>
<text x="1778.1" y="1791.3" font-size="29" font-weight="bold" text-anchor="middle" fill="#000" transform="translate(1778.1 0) scale(0.86 1) translate(-1778.1 0)">C</text>
<line x1="1759.1" y1="1779.8" x2="1730.2" y2="1779.8" stroke="#111" stroke-width="1.4"/>
<polygon points="1730.2,1776.2 1710.7,1779.8 1730.2,1783.4" stroke="#111" stroke-width="1.3" fill="#fff" stroke-linejoin="round"/>
<path d="M1577.9,1791.6 L1578.5,1859.5 Q1586.6,1865.5 1594.7,1859.5 L1595.3,1791.6" stroke="#111" stroke-width="1.6" fill="#fff" stroke-linejoin="round" stroke-linecap="round" />
<path d="M1578.2,1821.8 L1578.5,1859.5 Q1586.6,1865.5 1594.7,1859.5 L1595.0,1821.8 Z" stroke="#111" stroke-width="1.0" fill="#3c3c3c" stroke-linejoin="round" stroke-linecap="round" />
<ellipse cx="1585.1" cy="1825.8" rx="3.0" ry="2.0" stroke="#e0e0e0" stroke-width="0.9" fill="none"/>
<ellipse cx="1585.1" cy="1832.3" rx="3.0" ry="2.0" stroke="#e0e0e0" stroke-width="0.9" fill="none"/>
<ellipse cx="1585.1" cy="1838.8" rx="3.0" ry="2.0" stroke="#e0e0e0" stroke-width="0.9" fill="none"/>
<ellipse cx="1585.1" cy="1845.3" rx="3.0" ry="2.0" stroke="#e0e0e0" stroke-width="0.9" fill="none"/>
<ellipse cx="1585.1" cy="1851.8" rx="3.0" ry="2.0" stroke="#e0e0e0" stroke-width="0.9" fill="none"/>
<ellipse cx="1585.1" cy="1858.3" rx="3.0" ry="2.0" stroke="#e0e0e0" stroke-width="0.9" fill="none"/>
<ellipse cx="1583.6" cy="1798.6" rx="2.6" ry="1.7" stroke="#111" stroke-width="0.9" fill="none"/>
<ellipse cx="1579.4" cy="1801.4" rx="1.0" ry="1.7" stroke="#111" stroke-width="0.9" fill="none"/>
<ellipse cx="1593.8" cy="1801.4" rx="1.0" ry="1.7" stroke="#111" stroke-width="0.9" fill="none"/>
<ellipse cx="1589.1" cy="1804.2" rx="2.6" ry="1.7" stroke="#111" stroke-width="0.9" fill="none"/>
<ellipse cx="1579.4" cy="1807.0" rx="1.0" ry="1.7" stroke="#111" stroke-width="0.9" fill="none"/>
<ellipse cx="1593.8" cy="1807.0" rx="1.0" ry="1.7" stroke="#111" stroke-width="0.9" fill="none"/>
<ellipse cx="1583.6" cy="1809.8" rx="2.6" ry="1.7" stroke="#111" stroke-width="0.9" fill="none"/>
<ellipse cx="1579.4" cy="1812.6" rx="1.0" ry="1.7" stroke="#111" stroke-width="0.9" fill="none"/>
<ellipse cx="1593.8" cy="1812.6" rx="1.0" ry="1.7" stroke="#111" stroke-width="0.9" fill="none"/>
<ellipse cx="1589.1" cy="1815.4" rx="2.6" ry="1.7" stroke="#111" stroke-width="0.9" fill="none"/>
<ellipse cx="1579.4" cy="1818.2" rx="1.0" ry="1.7" stroke="#111" stroke-width="0.9" fill="none"/>
<ellipse cx="1593.8" cy="1818.2" rx="1.0" ry="1.7" stroke="#111" stroke-width="0.9" fill="none"/>
<ellipse cx="1583.6" cy="1821.0" rx="2.6" ry="1.7" stroke="#111" stroke-width="0.9" fill="none"/>
<ellipse cx="1579.4" cy="1823.8" rx="1.0" ry="1.7" stroke="#111" stroke-width="0.9" fill="none"/>
<ellipse cx="1593.8" cy="1823.8" rx="1.0" ry="1.7" stroke="#111" stroke-width="0.9" fill="none"/>
<ellipse cx="1586.6" cy="1791.6" rx="9.2" ry="5.4" stroke="#111" stroke-width="1.7" fill="#fff"/>
<ellipse cx="1586.6" cy="1791.9" rx="5.5" ry="3.0" stroke="#111" stroke-width="1.8" fill="none"/>
<circle cx="1668.3" cy="1836.0" r="19.0" stroke="#111" stroke-width="1.5" fill="#fff"/>
<text x="1668.3" y="1846.5" font-size="29" font-weight="bold" text-anchor="middle" fill="#000" transform="translate(1668.3 0) scale(0.86 1) translate(-1668.3 0)">C</text>
<line x1="1649.3" y1="1835.0" x2="1620.8" y2="1835.0" stroke="#111" stroke-width="1.4"/>
<polygon points="1620.8,1831.4 1601.3,1835.0 1620.8,1838.6" stroke="#111" stroke-width="1.3" fill="#fff" stroke-linejoin="round"/>
<path d="M1510.9,1830.0 L1511.5,1899.0 Q1519.6,1905.0 1527.7,1899.0 L1528.3,1830.0" stroke="#111" stroke-width="1.6" fill="#fff" stroke-linejoin="round" stroke-linecap="round" />
<path d="M1511.2,1860.7 L1511.5,1899.0 Q1519.6,1905.0 1527.7,1899.0 L1528.0,1860.7 Z" stroke="#111" stroke-width="1.0" fill="#3c3c3c" stroke-linejoin="round" stroke-linecap="round" />
<ellipse cx="1518.1" cy="1864.7" rx="3.0" ry="2.0" stroke="#e0e0e0" stroke-width="0.9" fill="none"/>
<ellipse cx="1518.1" cy="1871.2" rx="3.0" ry="2.0" stroke="#e0e0e0" stroke-width="0.9" fill="none"/>
<ellipse cx="1518.1" cy="1877.7" rx="3.0" ry="2.0" stroke="#e0e0e0" stroke-width="0.9" fill="none"/>
<ellipse cx="1518.1" cy="1884.2" rx="3.0" ry="2.0" stroke="#e0e0e0" stroke-width="0.9" fill="none"/>
<ellipse cx="1518.1" cy="1890.7" rx="3.0" ry="2.0" stroke="#e0e0e0" stroke-width="0.9" fill="none"/>
<ellipse cx="1518.1" cy="1897.2" rx="3.0" ry="2.0" stroke="#e0e0e0" stroke-width="0.9" fill="none"/>
<ellipse cx="1516.6" cy="1837.0" rx="2.6" ry="1.7" stroke="#111" stroke-width="0.9" fill="none"/>
<ellipse cx="1512.4" cy="1839.8" rx="1.0" ry="1.7" stroke="#111" stroke-width="0.9" fill="none"/>
<ellipse cx="1526.8" cy="1839.8" rx="1.0" ry="1.7" stroke="#111" stroke-width="0.9" fill="none"/>
<ellipse cx="1522.1" cy="1842.6" rx="2.6" ry="1.7" stroke="#111" stroke-width="0.9" fill="none"/>
<ellipse cx="1512.4" cy="1845.4" rx="1.0" ry="1.7" stroke="#111" stroke-width="0.9" fill="none"/>
<ellipse cx="1526.8" cy="1845.4" rx="1.0" ry="1.7" stroke="#111" stroke-width="0.9" fill="none"/>
<ellipse cx="1516.6" cy="1848.2" rx="2.6" ry="1.7" stroke="#111" stroke-width="0.9" fill="none"/>
<ellipse cx="1512.4" cy="1851.0" rx="1.0" ry="1.7" stroke="#111" stroke-width="0.9" fill="none"/>
<ellipse cx="1526.8" cy="1851.0" rx="1.0" ry="1.7" stroke="#111" stroke-width="0.9" fill="none"/>
<ellipse cx="1522.1" cy="1853.8" rx="2.6" ry="1.7" stroke="#111" stroke-width="0.9" fill="none"/>
<ellipse cx="1512.4" cy="1856.6" rx="1.0" ry="1.7" stroke="#111" stroke-width="0.9" fill="none"/>
<ellipse cx="1526.8" cy="1856.6" rx="1.0" ry="1.7" stroke="#111" stroke-width="0.9" fill="none"/>
<ellipse cx="1516.6" cy="1859.4" rx="2.6" ry="1.7" stroke="#111" stroke-width="0.9" fill="none"/>
<ellipse cx="1512.4" cy="1862.2" rx="1.0" ry="1.7" stroke="#111" stroke-width="0.9" fill="none"/>
<ellipse cx="1526.8" cy="1862.2" rx="1.0" ry="1.7" stroke="#111" stroke-width="0.9" fill="none"/>
<ellipse cx="1519.6" cy="1830.0" rx="9.2" ry="5.4" stroke="#111" stroke-width="1.7" fill="#fff"/>
<ellipse cx="1519.6" cy="1830.3" rx="5.5" ry="3.0" stroke="#111" stroke-width="1.8" fill="none"/>
<circle cx="1605.3" cy="1897.0" r="19.0" stroke="#111" stroke-width="1.5" fill="#fff"/>
<text x="1605.3" y="1907.5" font-size="29" font-weight="bold" text-anchor="middle" fill="#000" transform="translate(1605.3 0) scale(0.86 1) translate(-1605.3 0)">C</text>
<line x1="1586.3" y1="1897.0" x2="1556.8" y2="1897.0" stroke="#111" stroke-width="1.4"/>
<polygon points="1556.8,1893.4 1537.3,1897.0 1556.8,1900.6" stroke="#111" stroke-width="1.3" fill="#fff" stroke-linejoin="round"/>
</g>
</svg></body></html>
